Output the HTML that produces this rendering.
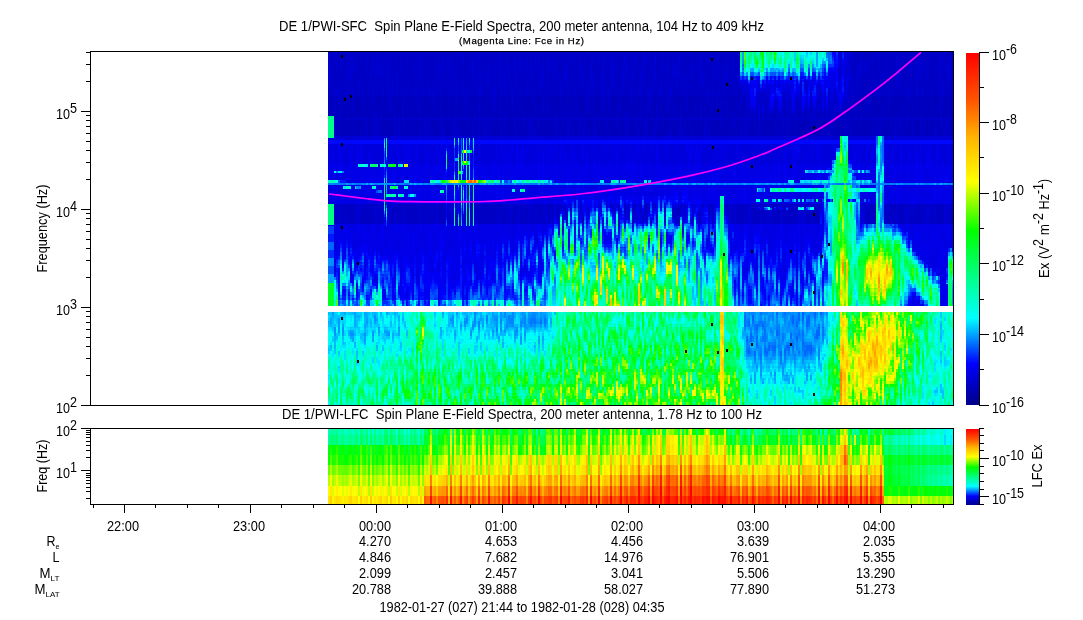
<!DOCTYPE html>
<html lang="en"><head><meta charset="utf-8"><title>DE 1/PWI Spin Plane E-Field Spectra</title>
<style>html,body{margin:0;padding:0;background:#fff}svg{display:block}text{font-family:"Liberation Sans", Arial, sans-serif;fill:#000}</style>
</head><body>
<svg width="1083" height="620" viewBox="0 0 1083 620">
<rect width="1083" height="620" fill="#fff"/>
<defs><linearGradient id="cb" x1="0" y1="0" x2="0" y2="1"><stop offset="0.0000" stop-color="#ff0000"/><stop offset="0.1333" stop-color="#ff5400"/><stop offset="0.2471" stop-color="#ffb900"/><stop offset="0.3647" stop-color="#ffff00"/><stop offset="0.5059" stop-color="#00ff00"/><stop offset="0.7529" stop-color="#00ffff"/><stop offset="0.8824" stop-color="#0000ff"/><stop offset="1.0000" stop-color="#000089"/></linearGradient></defs>
<defs>
<filter id="fm" filterUnits="userSpaceOnUse" x="328" y="52" width="625" height="254" color-interpolation-filters="sRGB">
<feTurbulence type="fractalNoise" baseFrequency="0.45 0.035" numOctaves="2" seed="11" stitchTiles="noStitch"/>
<feColorMatrix type="matrix" values="2.8 0 0 0 -0.9 2.8 0 0 0 -0.9 2.8 0 0 0 -0.9 0 0 0 0 1" result="n0"/>
<feComponentTransfer result="n0"><feFuncR type="gamma" exponent="1.8"/><feFuncG type="gamma" exponent="1.8"/><feFuncB type="gamma" exponent="1.8"/></feComponentTransfer>
<feFlood x="328" y="53" width="1" height="1" flood-color="#000"/>
<feOffset dx="0" dy="0" x="328" y="52" width="2" height="3"/>
<feTile result="grid"/>
<feComposite in="n0" in2="grid" operator="in"/>
<feMorphology operator="dilate" radius="0 1" result="m"/>
<feOffset in="m" dx="1" dy="0" result="m2"/>
<feMerge result="n"><feMergeNode in="m2"/><feMergeNode in="m"/></feMerge>
<feColorMatrix in="SourceGraphic" type="matrix" values="1 0 0 0 0 1 0 0 0 0 1 0 0 0 0 0 0 0 0 1" result="b"/>
<feColorMatrix in="SourceGraphic" type="matrix" values="0 1 0 0 0 0 1 0 0 0 0 1 0 0 0 0 0 0 0 1" result="a"/>
<feComposite in="a" in2="n" operator="arithmetic" k1="1" k2="-0.5" k3="0" k4="0.5" result="t1"/>
<feComposite in="b" in2="t1" operator="arithmetic" k1="0" k2="1" k3="1" k4="-0.5"/>
<feComponentTransfer><feFuncR type="table" tableValues="0 0 0 0 0 0 0 0 0 0 0 0 0 0 0 0 0 0 0 0 0 0 0 0 0 0 0 0 0 0 0 0 0 0 0 0 0 0 0 0 0 0 0 0.0833 0.167 0.25 0.333 0.417 0.5 0.583 0.667 0.75 0.833 0.917 1 1 1 1 1 1 1 1 1 1 1 1 1 1 1 1 1 1 1 1 1 1 1 1 1 1 1 1 1 1 1 1"/><feFuncG type="table" tableValues="0 0 0 0 0 0 0 0 0 0 0 0.0909 0.182 0.273 0.364 0.455 0.545 0.636 0.727 0.818 0.909 1 1 1 1 1 1 1 1 1 1 1 1 1 1 1 1 1 1 1 1 1 1 1 1 1 1 1 1 1 1 1 1 1 1 0.973 0.945 0.918 0.89 0.863 0.835 0.808 0.78 0.753 0.725 0.685 0.644 0.603 0.562 0.521 0.48 0.439 0.398 0.357 0.32 0.291 0.262 0.233 0.203 0.174 0.145 0.116 0.0872 0.0581 0.0291 0"/><feFuncB type="table" tableValues="0.537 0.584 0.63 0.676 0.722 0.769 0.815 0.861 0.907 0.954 1 1 1 1 1 1 1 1 1 1 1 1 0.952 0.905 0.857 0.81 0.762 0.714 0.667 0.619 0.571 0.524 0.476 0.429 0.381 0.333 0.286 0.238 0.19 0.143 0.0952 0.0476 0 0 0 0 0 0 0 0 0 0 0 0 0 0 0 0 0 0 0 0 0 0 0 0 0 0 0 0 0 0 0 0 0 0 0 0 0 0 0 0 0 0 0 0"/></feComponentTransfer>
</filter>
<filter id="fb" filterUnits="userSpaceOnUse" x="328" y="312" width="625" height="93" color-interpolation-filters="sRGB">
<feTurbulence type="fractalNoise" baseFrequency="0.45 0.07" numOctaves="2" seed="23" stitchTiles="noStitch"/>
<feColorMatrix type="matrix" values="2.6 0 0 0 -0.8 2.6 0 0 0 -0.8 2.6 0 0 0 -0.8 0 0 0 0 1" result="n0"/>
<feFlood x="328" y="313" width="1" height="1" flood-color="#000"/>
<feOffset dx="0" dy="0" x="328" y="312" width="2" height="3"/>
<feTile result="grid"/>
<feComposite in="n0" in2="grid" operator="in"/>
<feMorphology operator="dilate" radius="0 1" result="m"/>
<feOffset in="m" dx="1" dy="0" result="m2"/>
<feMerge result="n"><feMergeNode in="m2"/><feMergeNode in="m"/></feMerge>
<feColorMatrix in="SourceGraphic" type="matrix" values="1 0 0 0 0 1 0 0 0 0 1 0 0 0 0 0 0 0 0 1" result="b"/>
<feColorMatrix in="SourceGraphic" type="matrix" values="0 1 0 0 0 0 1 0 0 0 0 1 0 0 0 0 0 0 0 1" result="a"/>
<feComposite in="a" in2="n" operator="arithmetic" k1="1" k2="-0.5" k3="0" k4="0.5" result="t1"/>
<feComposite in="b" in2="t1" operator="arithmetic" k1="0" k2="1" k3="1" k4="-0.5"/>
<feComponentTransfer><feFuncR type="table" tableValues="0 0 0 0 0 0 0 0 0 0 0 0 0 0 0 0 0 0 0 0 0 0 0 0 0 0 0 0 0 0 0 0 0 0 0 0 0 0 0 0 0 0 0 0.0833 0.167 0.25 0.333 0.417 0.5 0.583 0.667 0.75 0.833 0.917 1 1 1 1 1 1 1 1 1 1 1 1 1 1 1 1 1 1 1 1 1 1 1 1 1 1 1 1 1 1 1 1"/><feFuncG type="table" tableValues="0 0 0 0 0 0 0 0 0 0 0 0.0909 0.182 0.273 0.364 0.455 0.545 0.636 0.727 0.818 0.909 1 1 1 1 1 1 1 1 1 1 1 1 1 1 1 1 1 1 1 1 1 1 1 1 1 1 1 1 1 1 1 1 1 1 0.973 0.945 0.918 0.89 0.863 0.835 0.808 0.78 0.753 0.725 0.685 0.644 0.603 0.562 0.521 0.48 0.439 0.398 0.357 0.32 0.291 0.262 0.233 0.203 0.174 0.145 0.116 0.0872 0.0581 0.0291 0"/><feFuncB type="table" tableValues="0.537 0.584 0.63 0.676 0.722 0.769 0.815 0.861 0.907 0.954 1 1 1 1 1 1 1 1 1 1 1 1 0.952 0.905 0.857 0.81 0.762 0.714 0.667 0.619 0.571 0.524 0.476 0.429 0.381 0.333 0.286 0.238 0.19 0.143 0.0952 0.0476 0 0 0 0 0 0 0 0 0 0 0 0 0 0 0 0 0 0 0 0 0 0 0 0 0 0 0 0 0 0 0 0 0 0 0 0 0 0 0 0 0 0 0 0"/></feComponentTransfer>
</filter>
<filter id="fl" filterUnits="userSpaceOnUse" x="328" y="429" width="625" height="75" color-interpolation-filters="sRGB">
<feTurbulence type="fractalNoise" baseFrequency="0.40 0.004" numOctaves="1" seed="5" stitchTiles="noStitch"/>
<feColorMatrix type="matrix" values="2.8 0 0 0 -0.9 2.8 0 0 0 -0.9 2.8 0 0 0 -0.9 0 0 0 0 1" result="n0"/>
<feFlood x="328" y="430" width="1" height="1" flood-color="#000"/>
<feOffset dx="0" dy="0" x="328" y="429" width="2" height="3"/>
<feTile result="grid"/>
<feComposite in="n0" in2="grid" operator="in"/>
<feMorphology operator="dilate" radius="0 1" result="m"/>
<feOffset in="m" dx="1" dy="0" result="m2"/>
<feMerge result="n"><feMergeNode in="m2"/><feMergeNode in="m"/></feMerge>
<feColorMatrix in="SourceGraphic" type="matrix" values="1 0 0 0 0 1 0 0 0 0 1 0 0 0 0 0 0 0 0 1" result="b"/>
<feColorMatrix in="SourceGraphic" type="matrix" values="0 1 0 0 0 0 1 0 0 0 0 1 0 0 0 0 0 0 0 1" result="a"/>
<feComposite in="a" in2="n" operator="arithmetic" k1="1" k2="-0.5" k3="0" k4="0.5" result="t1"/>
<feComposite in="b" in2="t1" operator="arithmetic" k1="0" k2="1" k3="1" k4="-0.5"/>
<feComponentTransfer><feFuncR type="table" tableValues="0 0 0 0 0 0 0 0 0 0 0 0 0 0 0 0 0 0 0 0 0 0 0 0 0 0 0 0 0 0 0 0 0 0 0 0 0 0 0 0 0 0 0 0.0833 0.167 0.25 0.333 0.417 0.5 0.583 0.667 0.75 0.833 0.917 1 1 1 1 1 1 1 1 1 1 1 1 1 1 1 1 1 1 1 1 1 1 1 1 1 1 1 1 1 1 1 1"/><feFuncG type="table" tableValues="0 0 0 0 0 0 0 0 0 0 0 0.0909 0.182 0.273 0.364 0.455 0.545 0.636 0.727 0.818 0.909 1 1 1 1 1 1 1 1 1 1 1 1 1 1 1 1 1 1 1 1 1 1 1 1 1 1 1 1 1 1 1 1 1 1 0.973 0.945 0.918 0.89 0.863 0.835 0.808 0.78 0.753 0.725 0.685 0.644 0.603 0.562 0.521 0.48 0.439 0.398 0.357 0.32 0.291 0.262 0.233 0.203 0.174 0.145 0.116 0.0872 0.0581 0.0291 0"/><feFuncB type="table" tableValues="0.537 0.584 0.63 0.676 0.722 0.769 0.815 0.861 0.907 0.954 1 1 1 1 1 1 1 1 1 1 1 1 0.952 0.905 0.857 0.81 0.762 0.714 0.667 0.619 0.571 0.524 0.476 0.429 0.381 0.333 0.286 0.238 0.19 0.143 0.0952 0.0476 0 0 0 0 0 0 0 0 0 0 0 0 0 0 0 0 0 0 0 0 0 0 0 0 0 0 0 0 0 0 0 0 0 0 0 0 0 0 0 0 0 0 0 0"/></feComponentTransfer>
</filter>
</defs>
<g filter="url(#fm)">
<rect x="328" y="52" width="625" height="254" fill="#100800"/>
<path fill="#0e0400" d="M328 96h412v4h-412zM852 96h101v4h-101zM328 100h412v4h-412zM852 100h101v4h-101zM328 104h416v4h-416zM852 104h101v4h-101zM328 108h416v4h-416zM848 108h105v4h-105zM328 112h416v4h-416zM848 112h105v4h-105zM328 116h416v4h-416zM844 116h109v4h-109zM328 120h625v4h-625zM328 124h625v4h-625zM328 128h625v4h-625zM328 132h625v4h-625z"/>
<path fill="#100400" d="M328 52h412v4h-412zM852 52h101v4h-101zM328 56h412v4h-412zM852 56h101v4h-101zM328 60h412v4h-412zM852 60h101v4h-101zM328 64h412v4h-412zM852 64h101v4h-101zM328 68h412v4h-412zM852 68h101v4h-101zM328 72h412v4h-412zM852 72h101v4h-101zM328 76h412v4h-412zM852 76h101v4h-101zM328 80h412v4h-412zM852 80h101v4h-101zM328 84h412v4h-412zM852 84h101v4h-101zM328 88h412v4h-412zM852 88h101v4h-101zM328 92h412v4h-412zM852 92h101v4h-101zM740 96h4v4h-4zM740 100h4v4h-4zM848 104h4v4h-4zM744 116h4v4h-4zM328 204h224v4h-224zM724 204h96v4h-96zM864 204h12v4h-12zM884 204h69v4h-69zM328 208h224v4h-224zM728 208h92v4h-92zM864 208h12v4h-12zM884 208h69v4h-69zM328 212h220v4h-220zM728 212h92v4h-92zM864 212h12v4h-12zM884 212h69v4h-69zM328 216h216v4h-216zM728 216h92v4h-92zM864 216h12v4h-12zM884 216h69v4h-69zM328 220h216v4h-216zM732 220h88v4h-88zM864 220h12v4h-12zM884 220h69v4h-69z"/>
<path fill="#100800" d="M848 96h4v4h-4zM848 100h4v4h-4zM744 108h4v4h-4zM844 108h4v4h-4zM744 112h104v4h-104zM748 116h96v4h-96z"/>
<path fill="#120400" d="M712 204h4v4h-4zM724 208h4v4h-4zM544 216h4v4h-4zM728 220h4v4h-4z"/>
<path fill="#120800" d="M848 80h4v4h-4zM740 84h4v4h-4zM848 84h4v4h-4zM740 88h4v4h-4zM848 88h4v4h-4zM740 92h4v4h-4zM848 92h4v4h-4zM744 100h4v4h-4zM844 100h4v4h-4zM744 104h4v4h-4zM844 104h4v4h-4zM748 108h96v4h-96zM552 204h4v4h-4zM708 204h4v4h-4zM712 208h4v4h-4zM548 212h4v4h-4zM544 220h4v4h-4z"/>
<path fill="#140400" d="M328 136h512v4h-512zM848 136h28v4h-28zM884 136h69v4h-69z"/>
<path fill="#140800" d="M848 52h4v4h-4zM848 56h4v4h-4zM848 60h4v4h-4zM848 64h4v4h-4zM848 68h4v4h-4zM848 72h4v4h-4zM848 76h4v4h-4zM844 96h4v4h-4zM724 212h4v4h-4z"/>
<path fill="#140c00" d="M744 96h4v4h-4zM748 100h96v4h-96zM748 104h96v4h-96zM704 204h4v4h-4zM552 208h4v4h-4zM708 208h4v4h-4zM712 212h4v4h-4zM548 216h4v4h-4z"/>
<path fill="#160400" d="M328 144h512v4h-512zM848 144h28v4h-28zM884 144h69v4h-69zM328 148h508v4h-508zM848 148h28v4h-28zM884 148h69v4h-69zM328 152h508v4h-508zM848 152h28v4h-28zM884 152h69v4h-69zM328 156h508v4h-508zM848 156h28v4h-28zM884 156h69v4h-69zM328 160h504v4h-504zM852 160h24v4h-24zM884 160h69v4h-69z"/>
<path fill="#160800" d="M740 80h4v4h-4z"/>
<path fill="#160c00" d="M844 84h4v4h-4zM844 88h4v4h-4zM744 92h4v4h-4zM844 92h4v4h-4zM748 96h96v4h-96z"/>
<path fill="#161000" d="M556 204h4v4h-4zM700 204h4v4h-4zM704 208h4v4h-4zM552 212h4v4h-4zM708 212h4v4h-4zM712 216h4v4h-4zM548 220h4v4h-4z"/>
<path fill="#180400" d="M328 164h504v4h-504zM852 164h24v4h-24zM884 164h69v4h-69zM328 168h500v4h-500zM852 168h24v4h-24zM884 168h69v4h-69zM328 172h500v4h-500zM856 172h20v4h-20zM884 172h69v4h-69zM328 176h500v4h-500zM856 176h20v4h-20zM884 176h69v4h-69zM328 180h496v4h-496zM856 180h20v4h-20zM884 180h69v4h-69zM328 184h496v4h-496zM860 184h16v4h-16zM884 184h69v4h-69zM328 188h496v4h-496zM860 188h16v4h-16zM884 188h69v4h-69zM328 192h300v4h-300zM688 192h136v4h-136zM860 192h16v4h-16zM884 192h69v4h-69zM328 196h232v4h-232zM704 196h12v4h-12zM724 196h100v4h-100zM860 196h16v4h-16zM884 196h69v4h-69zM328 200h228v4h-228zM708 200h8v4h-8zM724 200h100v4h-100zM860 200h16v4h-16zM884 200h69v4h-69zM328 224h216v4h-216zM732 224h92v4h-92zM900 224h53v4h-53zM328 228h212v4h-212zM736 228h84v4h-84zM904 228h49v4h-49zM328 232h188v4h-188zM748 232h68v4h-68zM908 232h45v4h-45zM328 236h172v4h-172zM764 236h44v4h-44zM908 236h45v4h-45zM348 240h144v4h-144zM784 240h20v4h-20zM912 240h41v4h-41zM368 244h100v4h-100zM912 244h41v4h-41zM388 248h60v4h-60zM916 248h32v4h-32zM952 248h1v4h-1zM400 252h16v4h-16zM916 252h32v4h-32zM920 256h28v4h-28zM924 260h24v4h-24zM928 264h20v4h-20zM936 268h8v4h-8zM936 272h8v4h-8zM940 276h4v4h-4zM940 280h4v4h-4zM940 284h8v4h-8zM940 288h8v4h-8zM940 292h8v4h-8zM912 296h4v4h-4zM940 296h8v4h-8zM912 300h8v4h-8zM940 300h8v4h-8zM912 304h12v2h-12zM940 304h8v2h-8z"/>
<path fill="#180800" d="M628 192h44v4h-44zM680 192h8v4h-8zM744 232h4v4h-4z"/>
<path fill="#180c00" d="M844 52h4v4h-4zM844 56h4v4h-4zM844 60h4v4h-4zM844 64h4v4h-4zM844 68h4v4h-4zM844 72h4v4h-4zM844 76h4v4h-4zM844 80h4v4h-4zM744 84h4v4h-4zM744 88h4v4h-4zM840 92h4v4h-4z"/>
<path fill="#181000" d="M748 92h92v4h-92z"/>
<path fill="#181400" d="M692 204h8v4h-8z"/>
<path fill="#1a0400" d="M364 244h4v4h-4zM468 244h4v4h-4zM384 248h4v4h-4zM448 248h4v4h-4zM396 252h4v4h-4zM416 252h8v4h-8z"/>
<path fill="#1a0800" d="M672 192h8v4h-8zM560 196h28v4h-28zM688 196h16v4h-16zM716 196h4v4h-4zM556 200h4v4h-4zM704 200h4v4h-4zM728 224h4v4h-4zM540 228h4v4h-4zM732 228h4v4h-4zM820 228h4v4h-4zM516 232h24v4h-24zM736 232h8v4h-8zM816 232h4v4h-4zM500 236h24v4h-24zM740 236h24v4h-24zM808 236h8v4h-8zM328 240h20v4h-20zM492 240h16v4h-16zM748 240h36v4h-36zM804 240h8v4h-8zM348 244h16v4h-16zM472 244h24v4h-24zM768 244h40v4h-40zM364 248h20v4h-20zM452 248h40v4h-40zM788 248h16v4h-16zM380 252h16v4h-16zM424 252h52v4h-52zM396 256h64v4h-64zM404 260h40v4h-40zM408 264h4v4h-4z"/>
<path fill="#1a0c00" d="M588 196h8v4h-8zM724 216h4v4h-4zM820 216h4v4h-4zM820 220h4v4h-4zM544 224h4v4h-4z"/>
<path fill="#1a1000" d="M840 52h4v4h-4zM840 56h4v4h-4zM840 60h4v4h-4zM840 64h4v4h-4zM836 68h8v4h-8zM836 72h8v4h-8zM836 76h8v4h-8zM836 80h8v4h-8zM748 84h96v4h-96zM748 88h96v4h-96zM820 204h4v4h-4zM860 204h4v4h-4zM820 208h4v4h-4zM860 208h4v4h-4zM820 212h4v4h-4z"/>
<path fill="#1a1400" d="M688 204h4v4h-4zM700 208h4v4h-4zM704 212h4v4h-4zM552 216h4v4h-4zM708 216h4v4h-4zM712 220h4v4h-4z"/>
<path fill="#1a1800" d="M560 204h20v4h-20zM684 204h4v4h-4zM556 208h4v4h-4z"/>
<path fill="#1c0800" d="M344 244h4v4h-4zM496 244h4v4h-4zM784 248h4v4h-4zM476 252h4v4h-4zM392 256h4v4h-4zM460 256h4v4h-4zM400 260h4v4h-4zM444 260h8v4h-8zM412 264h8v4h-8z"/>
<path fill="#1c0c00" d="M596 196h92v4h-92zM692 200h12v4h-12zM716 200h4v4h-4zM728 228h4v4h-4zM540 232h4v4h-4zM732 232h4v4h-4zM820 232h4v4h-4zM524 236h16v4h-16zM732 236h8v4h-8zM816 236h4v4h-4zM508 240h16v4h-16zM736 240h12v4h-12zM812 240h4v4h-4zM328 244h16v4h-16zM500 244h8v4h-8zM740 244h28v4h-28zM808 244h4v4h-4zM348 248h16v4h-16zM492 248h8v4h-8zM760 248h24v4h-24zM804 248h4v4h-4zM368 252h12v4h-12zM480 252h16v4h-16zM780 252h24v4h-24zM384 256h8v4h-8zM464 256h28v4h-28zM796 256h4v4h-4zM396 260h4v4h-4zM452 260h28v4h-28zM400 264h8v4h-8zM420 264h44v4h-44zM404 268h48v4h-48zM408 272h12v4h-12z"/>
<path fill="#1c1000" d="M836 52h4v4h-4zM836 56h4v4h-4zM836 60h4v4h-4zM836 64h4v4h-4zM740 76h4v4h-4zM744 80h4v4h-4zM824 80h12v4h-12zM860 212h4v4h-4zM860 216h4v4h-4zM860 220h4v4h-4zM544 228h4v4h-4z"/>
<path fill="#1c1800" d="M580 204h12v4h-12zM692 208h8v4h-8z"/>
<path fill="#1c1c00" d="M592 204h64v4h-64zM680 204h4v4h-4zM700 212h4v4h-4zM704 216h4v4h-4zM708 220h4v4h-4z"/>
<path fill="#1e0000" d="M328 140h512v4h-512zM848 140h28v4h-28zM884 140h69v4h-69z"/>
<path fill="#1e0c00" d="M508 244h4v4h-4zM756 248h4v4h-4zM364 252h4v4h-4zM776 252h4v4h-4zM380 256h4v4h-4zM792 256h4v4h-4zM392 260h4v4h-4zM480 260h4v4h-4zM464 264h8v4h-8zM452 268h8v4h-8zM420 272h28v4h-28zM408 276h4v4h-4z"/>
<path fill="#1e1000" d="M832 76h4v4h-4zM816 80h8v4h-8zM560 200h44v4h-44zM684 200h8v4h-8zM728 232h4v4h-4zM904 232h4v4h-4zM540 236h4v4h-4zM728 236h4v4h-4zM820 236h4v4h-4zM524 240h16v4h-16zM732 240h4v4h-4zM816 240h4v4h-4zM512 244h8v4h-8zM736 244h4v4h-4zM812 244h4v4h-4zM328 248h20v4h-20zM500 248h8v4h-8zM740 248h16v4h-16zM808 248h4v4h-4zM912 248h4v4h-4zM356 252h8v4h-8zM496 252h8v4h-8zM752 252h24v4h-24zM804 252h4v4h-4zM372 256h8v4h-8zM492 256h4v4h-4zM772 256h20v4h-20zM800 256h4v4h-4zM388 260h4v4h-4zM484 260h8v4h-8zM792 260h8v4h-8zM396 264h4v4h-4zM472 264h20v4h-20zM400 268h4v4h-4zM460 268h20v4h-20zM404 272h4v4h-4zM448 272h20v4h-20zM404 276h4v4h-4zM412 276h48v4h-48zM408 280h40v4h-40z"/>
<path fill="#1e1400" d="M776 80h40v4h-40zM604 200h8v4h-8z"/>
<path fill="#1e1c00" d="M656 204h24v4h-24zM688 208h4v4h-4zM552 220h4v4h-4z"/>
<path fill="#1e2000" d="M560 208h8v4h-8zM556 212h4v4h-4zM696 212h4v4h-4z"/>
<path fill="#201000" d="M828 168h4v4h-4zM824 180h4v4h-4zM716 204h4v4h-4zM724 220h4v4h-4zM896 224h4v4h-4zM900 228h4v4h-4zM908 240h4v4h-4zM520 244h4v4h-4zM508 248h4v4h-4zM352 252h4v4h-4zM748 252h4v4h-4zM368 256h4v4h-4zM496 256h4v4h-4zM768 256h4v4h-4zM384 260h4v4h-4zM492 260h4v4h-4zM784 260h8v4h-8zM800 260h4v4h-4zM392 264h4v4h-4zM396 268h4v4h-4zM480 268h8v4h-8zM400 272h4v4h-4zM468 272h12v4h-12zM460 276h12v4h-12zM448 280h16v4h-16zM408 284h52v4h-52zM408 288h52v4h-52zM416 292h36v4h-36zM424 296h24v4h-24zM908 304h4v2h-4z"/>
<path fill="#201400" d="M832 72h4v4h-4zM828 76h4v4h-4zM748 80h28v4h-28zM612 200h72v4h-72zM548 224h4v4h-4zM544 232h4v4h-4zM540 240h4v4h-4zM728 240h4v4h-4zM820 240h4v4h-4zM524 244h16v4h-16zM732 244h4v4h-4zM816 244h4v4h-4zM512 248h8v4h-8zM736 248h4v4h-4zM812 248h4v4h-4zM344 252h8v4h-8zM504 252h4v4h-4zM740 252h8v4h-8zM808 252h4v4h-4zM360 256h8v4h-8zM500 256h4v4h-4zM744 256h24v4h-24zM804 256h4v4h-4zM376 260h8v4h-8zM496 260h4v4h-4zM764 260h20v4h-20zM492 264h4v4h-4zM780 264h24v4h-24zM488 268h4v4h-4zM480 272h12v4h-12zM400 276h4v4h-4zM472 276h12v4h-12zM404 280h4v4h-4zM464 280h12v4h-12zM404 284h4v4h-4zM460 284h4v4h-4zM408 292h8v4h-8z"/>
<path fill="#202000" d="M568 208h12v4h-12zM684 208h4v4h-4zM692 212h4v4h-4zM700 216h4v4h-4zM704 220h4v4h-4z"/>
<path fill="#202400" d="M580 208h12v4h-12zM688 212h4v4h-4z"/>
<path fill="#221000" d="M924 264h4v4h-4zM452 292h8v4h-8zM912 292h4v4h-4zM416 296h8v4h-8zM448 296h12v4h-12z"/>
<path fill="#221400" d="M832 68h4v4h-4zM824 76h4v4h-4zM836 148h4v4h-4zM340 252h4v4h-4zM508 252h4v4h-4zM736 252h4v4h-4zM740 256h4v4h-4zM372 260h4v4h-4zM756 260h8v4h-8zM804 260h4v4h-4zM388 264h4v4h-4zM776 264h4v4h-4zM492 268h4v4h-4zM792 268h8v4h-8zM396 272h4v4h-4zM484 276h8v4h-8zM476 280h16v4h-16zM464 284h28v4h-28zM404 288h4v4h-4zM460 288h24v4h-24zM460 292h16v4h-16zM408 296h8v4h-8zM460 296h12v4h-12z"/>
<path fill="#221800" d="M712 224h4v4h-4zM544 236h4v4h-4zM540 244h4v4h-4zM728 244h4v4h-4zM820 244h4v4h-4zM520 248h20v4h-20zM732 248h4v4h-4zM816 248h4v4h-4zM328 252h12v4h-12zM512 252h4v4h-4zM812 252h4v4h-4zM352 256h8v4h-8zM504 256h4v4h-4zM736 256h4v4h-4zM808 256h4v4h-4zM364 260h8v4h-8zM500 260h4v4h-4zM740 260h16v4h-16zM380 264h8v4h-8zM496 264h4v4h-4zM752 264h24v4h-24zM392 268h4v4h-4zM772 268h20v4h-20zM800 268h4v4h-4zM492 272h4v4h-4zM792 272h8v4h-8zM400 280h4v4h-4zM404 292h4v4h-4z"/>
<path fill="#222400" d="M592 208h24v4h-24zM680 208h4v4h-4z"/>
<path fill="#222800" d="M616 208h64v4h-64zM556 216h4v4h-4zM692 216h8v4h-8zM700 220h4v4h-4z"/>
<path fill="#241000" d="M860 224h4v4h-4zM904 236h4v4h-4zM908 244h4v4h-4zM908 300h4v4h-4z"/>
<path fill="#241400" d="M852 172h4v4h-4zM856 184h4v4h-4zM484 288h8v4h-8zM476 292h16v4h-16zM472 296h20v4h-20z"/>
<path fill="#241800" d="M832 64h4v4h-4zM828 72h4v4h-4zM812 76h12v4h-12zM516 252h4v4h-4zM348 256h4v4h-4zM508 256h4v4h-4zM376 264h4v4h-4zM740 264h12v4h-12zM804 264h4v4h-4zM496 268h4v4h-4zM760 268h12v4h-12zM780 272h12v4h-12zM800 272h4v4h-4zM396 276h4v4h-4zM492 276h4v4h-4zM796 276h4v4h-4zM492 280h4v4h-4zM400 284h4v4h-4zM404 296h4v4h-4z"/>
<path fill="#241c00" d="M548 228h4v4h-4zM544 240h4v4h-4zM540 248h4v4h-4zM728 248h4v4h-4zM520 252h20v4h-20zM732 252h4v4h-4zM816 252h4v4h-4zM328 256h20v4h-20zM512 256h4v4h-4zM812 256h4v4h-4zM356 260h8v4h-8zM504 260h4v4h-4zM736 260h4v4h-4zM808 260h4v4h-4zM372 264h4v4h-4zM500 264h4v4h-4zM384 268h8v4h-8zM744 268h16v4h-16zM804 268h4v4h-4zM392 272h4v4h-4zM496 272h4v4h-4zM764 272h16v4h-16zM780 276h16v4h-16z"/>
<path fill="#242800" d="M560 212h8v4h-8zM684 212h4v4h-4z"/>
<path fill="#242c00" d="M568 212h12v4h-12zM688 216h4v4h-4z"/>
<path fill="#261000" d="M716 208h4v4h-4z"/>
<path fill="#261400" d="M848 160h4v4h-4zM824 184h4v4h-4zM920 260h4v4h-4zM936 280h4v4h-4zM916 296h4v4h-4z"/>
<path fill="#261800" d="M832 52h4v4h-4zM832 56h4v4h-4zM832 60h4v4h-4zM788 76h24v4h-24zM492 284h4v4h-4zM492 288h4v4h-4zM492 292h4v4h-4z"/>
<path fill="#261c00" d="M820 248h4v4h-4zM732 256h4v4h-4zM508 260h4v4h-4zM368 264h4v4h-4zM736 264h4v4h-4zM500 268h4v4h-4zM736 268h8v4h-8zM740 272h24v4h-24zM496 276h4v4h-4zM744 276h36v4h-36zM800 276h4v4h-4zM396 280h4v4h-4zM764 280h40v4h-40zM784 284h16v4h-16zM400 288h4v4h-4zM400 292h4v4h-4z"/>
<path fill="#262000" d="M708 224h4v4h-4zM712 228h4v4h-4zM548 232h4v4h-4zM544 244h4v4h-4zM540 252h4v4h-4zM728 252h4v4h-4zM516 256h24v4h-24zM348 260h8v4h-8zM512 260h4v4h-4zM732 260h4v4h-4zM812 260h4v4h-4zM364 264h4v4h-4zM504 264h8v4h-8zM808 264h4v4h-4zM376 268h8v4h-8zM388 272h4v4h-4zM804 272h4v4h-4zM392 276h4v4h-4z"/>
<path fill="#262c00" d="M580 212h8v4h-8zM696 220h4v4h-4z"/>
<path fill="#263000" d="M588 212h8v4h-8zM680 212h4v4h-4zM692 220h4v4h-4z"/>
<path fill="#281000" d="M724 224h4v4h-4z"/>
<path fill="#281400" d="M740 72h4v4h-4zM856 188h4v4h-4zM892 224h4v4h-4zM896 228h4v4h-4zM900 232h4v4h-4zM908 296h4v4h-4z"/>
<path fill="#281800" d="M824 72h4v4h-4zM744 76h4v4h-4zM780 76h8v4h-8zM492 296h4v4h-4z"/>
<path fill="#281c00" d="M740 276h4v4h-4zM496 280h4v4h-4zM740 280h24v4h-24zM496 284h4v4h-4zM740 284h44v4h-44zM496 288h4v4h-4zM756 288h44v4h-44zM776 292h24v4h-24zM796 296h4v4h-4z"/>
<path fill="#282000" d="M816 256h4v4h-4zM360 264h4v4h-4zM732 264h4v4h-4zM372 268h4v4h-4zM504 268h4v4h-4zM808 268h4v4h-4zM384 272h4v4h-4zM500 272h4v4h-4zM736 272h4v4h-4zM500 276h4v4h-4zM736 276h4v4h-4zM804 276h4v4h-4zM396 284h4v4h-4zM800 284h4v4h-4zM800 288h4v4h-4zM400 296h4v4h-4z"/>
<path fill="#282400" d="M552 224h4v4h-4zM708 228h4v4h-4zM712 232h4v4h-4zM544 248h4v4h-4zM820 252h4v4h-4zM540 256h4v4h-4zM328 260h20v4h-20zM516 260h20v4h-20zM356 264h4v4h-4zM512 264h4v4h-4zM812 264h4v4h-4zM368 268h4v4h-4zM508 268h4v4h-4zM380 272h4v4h-4zM392 280h4v4h-4zM396 288h4v4h-4z"/>
<path fill="#283000" d="M596 212h72v4h-72zM556 220h4v4h-4z"/>
<path fill="#283400" d="M668 212h12v4h-12zM560 216h8v4h-8zM684 216h4v4h-4zM688 220h4v4h-4z"/>
<path fill="#2a1400" d="M864 224h4v4h-4zM904 240h4v4h-4zM916 256h4v4h-4zM920 300h4v4h-4z"/>
<path fill="#2a1800" d="M832 160h4v4h-4zM828 172h4v4h-4zM824 188h4v4h-4z"/>
<path fill="#2a1c00" d="M828 68h4v4h-4zM748 76h32v4h-32zM740 288h16v4h-16zM496 292h4v4h-4zM740 292h36v4h-36zM496 296h4v4h-4zM756 296h40v4h-40zM776 300h24v4h-24zM792 304h8v2h-8z"/>
<path fill="#2a2000" d="M500 280h4v4h-4zM736 280h4v4h-4zM500 284h4v4h-4zM736 284h4v4h-4zM800 292h4v4h-4zM800 296h4v4h-4z"/>
<path fill="#2a2400" d="M536 260h4v4h-4zM816 260h4v4h-4zM352 264h4v4h-4zM364 268h4v4h-4zM732 268h4v4h-4zM376 272h4v4h-4zM504 272h8v4h-8zM732 272h4v4h-4zM808 272h4v4h-4zM388 276h4v4h-4zM504 276h4v4h-4zM808 276h4v4h-4zM804 280h4v4h-4zM804 284h4v4h-4zM396 292h4v4h-4z"/>
<path fill="#2a2800" d="M704 224h4v4h-4zM548 236h4v4h-4zM712 236h4v4h-4zM820 256h4v4h-4zM540 260h4v4h-4zM348 264h4v4h-4zM516 264h16v4h-16zM360 268h4v4h-4zM512 268h4v4h-4zM812 268h4v4h-4zM372 272h4v4h-4zM384 276h4v4h-4zM392 284h4v4h-4z"/>
<path fill="#2a3400" d="M568 216h8v4h-8z"/>
<path fill="#2a3800" d="M576 216h8v4h-8z"/>
<path fill="#2c1400" d="M716 212h4v4h-4z"/>
<path fill="#2c1800" d="M856 192h4v4h-4zM824 228h4v4h-4zM860 228h4v4h-4zM824 232h4v4h-4zM824 236h4v4h-4zM824 240h4v4h-4zM904 304h4v2h-4z"/>
<path fill="#2c1c00" d="M740 296h16v4h-16zM740 300h36v4h-36zM752 304h40v2h-40z"/>
<path fill="#2c2000" d="M500 288h4v4h-4zM736 288h4v4h-4zM500 292h4v4h-4zM736 292h4v4h-4zM800 300h4v4h-4zM800 304h4v2h-4z"/>
<path fill="#2c2400" d="M728 256h4v4h-4zM732 276h4v4h-4zM504 280h4v4h-4zM732 280h4v4h-4zM504 284h4v4h-4zM804 288h4v4h-4zM804 292h4v4h-4z"/>
<path fill="#2c2800" d="M544 252h4v4h-4zM328 264h20v4h-20zM532 264h12v4h-12zM816 264h4v4h-4zM356 268h4v4h-4zM516 268h4v4h-4zM368 272h4v4h-4zM512 272h4v4h-4zM812 272h4v4h-4zM380 276h4v4h-4zM508 276h4v4h-4zM808 280h4v4h-4zM396 296h4v4h-4z"/>
<path fill="#2c2c00" d="M552 228h4v4h-4zM704 228h4v4h-4zM708 232h4v4h-4zM548 240h4v4h-4zM820 260h4v4h-4zM352 268h4v4h-4zM520 268h8v4h-8zM364 272h4v4h-4zM376 276h4v4h-4zM388 280h4v4h-4z"/>
<path fill="#2c3800" d="M584 216h4v4h-4zM680 216h4v4h-4z"/>
<path fill="#2c3c00" d="M588 216h8v4h-8zM684 220h4v4h-4z"/>
<path fill="#2e1400" d="M724 228h4v4h-4z"/>
<path fill="#2e1800" d="M852 176h4v4h-4zM824 192h4v4h-4zM824 196h4v4h-4zM856 196h4v4h-4zM824 200h4v4h-4zM856 200h4v4h-4zM824 204h4v4h-4zM856 204h4v4h-4zM824 208h4v4h-4zM856 208h4v4h-4zM824 212h4v4h-4zM824 216h4v4h-4zM824 220h4v4h-4zM824 224h4v4h-4zM888 224h4v4h-4zM912 252h4v4h-4zM928 272h4v4h-4zM908 292h4v4h-4z"/>
<path fill="#2e1c00" d="M828 64h4v4h-4zM816 72h8v4h-8zM740 304h12v2h-12z"/>
<path fill="#2e2000" d="M812 72h4v4h-4zM500 296h4v4h-4zM736 296h4v4h-4zM736 300h4v4h-4z"/>
<path fill="#2e2400" d="M732 284h4v4h-4zM504 288h4v4h-4zM804 296h4v4h-4zM804 300h4v4h-4z"/>
<path fill="#2e2800" d="M508 280h4v4h-4zM508 284h4v4h-4zM808 284h4v4h-4zM808 288h4v4h-4z"/>
<path fill="#2e2c00" d="M700 224h4v4h-4zM712 240h4v4h-4zM544 256h4v4h-4zM528 268h16v4h-16zM816 268h4v4h-4zM360 272h4v4h-4zM516 272h16v4h-16zM372 276h4v4h-4zM512 276h4v4h-4zM812 276h4v4h-4zM384 280h4v4h-4zM392 288h4v4h-4z"/>
<path fill="#2e3000" d="M708 236h4v4h-4zM820 264h4v4h-4zM328 268h24v4h-24zM356 272h4v4h-4zM368 276h4v4h-4zM380 280h4v4h-4zM388 284h4v4h-4z"/>
<path fill="#2e3c00" d="M596 216h84v4h-84zM560 220h8v4h-8z"/>
<path fill="#2e4000" d="M568 220h4v4h-4z"/>
<path fill="#301400" d="M716 216h4v4h-4z"/>
<path fill="#301800" d="M856 212h4v4h-4zM856 216h4v4h-4zM856 220h4v4h-4zM856 224h4v4h-4zM868 224h4v4h-4zM856 228h4v4h-4zM892 228h4v4h-4zM856 232h4v4h-4zM900 236h4v4h-4z"/>
<path fill="#301c00" d="M824 244h4v4h-4z"/>
<path fill="#302000" d="M824 68h4v4h-4zM796 72h16v4h-16zM736 304h4v2h-4z"/>
<path fill="#302400" d="M732 288h4v4h-4zM504 292h4v4h-4zM732 292h4v4h-4zM504 296h4v4h-4zM804 304h4v2h-4z"/>
<path fill="#302800" d="M508 288h4v4h-4zM808 292h4v4h-4z"/>
<path fill="#302c00" d="M532 272h12v4h-12zM816 272h4v4h-4zM516 276h4v4h-4zM524 276h16v4h-16zM512 280h4v4h-4zM812 280h4v4h-4zM512 284h4v4h-4zM812 284h4v4h-4zM392 292h4v4h-4zM392 296h4v4h-4z"/>
<path fill="#303000" d="M704 232h4v4h-4zM712 244h4v4h-4zM544 260h4v4h-4zM364 276h4v4h-4zM520 276h4v4h-4zM376 280h4v4h-4zM384 284h4v4h-4z"/>
<path fill="#303400" d="M692 224h8v4h-8zM700 228h4v4h-4zM552 232h4v4h-4zM548 244h4v4h-4zM944 268h4v4h-4zM348 272h8v4h-8zM944 272h4v4h-4zM360 276h4v4h-4zM944 276h4v4h-4zM372 280h4v4h-4zM944 280h4v4h-4zM380 284h4v4h-4z"/>
<path fill="#304000" d="M572 220h8v4h-8z"/>
<path fill="#304400" d="M580 220h4v4h-4z"/>
<path fill="#321800" d="M884 224h4v4h-4zM896 232h4v4h-4zM908 248h4v4h-4zM924 268h4v4h-4zM908 288h8v4h-8zM904 300h4v4h-4zM924 304h4v2h-4z"/>
<path fill="#321c00" d="M740 68h4v4h-4zM848 164h4v4h-4z"/>
<path fill="#322000" d="M828 52h4v4h-4zM828 56h4v4h-4zM828 60h4v4h-4zM788 72h8v4h-8z"/>
<path fill="#322400" d="M824 248h4v4h-4zM728 260h4v4h-4z"/>
<path fill="#322800" d="M508 292h4v4h-4zM508 296h4v4h-4zM808 296h4v4h-4zM808 300h4v4h-4z"/>
<path fill="#322c00" d="M540 276h4v4h-4zM516 280h4v4h-4zM524 280h20v4h-20zM516 284h4v4h-4zM512 288h4v4h-4zM812 288h4v4h-4z"/>
<path fill="#323000" d="M544 264h4v4h-4zM544 268h4v4h-4zM820 268h4v4h-4zM820 272h4v4h-4zM816 276h4v4h-4zM520 280h4v4h-4zM816 280h4v4h-4z"/>
<path fill="#323400" d="M704 236h4v4h-4zM708 240h4v4h-4zM712 248h4v4h-4zM928 268h8v4h-8zM328 272h12v4h-12zM356 276h4v4h-4zM936 276h4v4h-4zM368 280h4v4h-4zM376 284h4v4h-4zM384 288h8v4h-8z"/>
<path fill="#323800" d="M556 224h4v4h-4zM696 228h4v4h-4zM548 248h4v4h-4zM340 272h8v4h-8zM364 280h4v4h-4z"/>
<path fill="#324400" d="M584 220h8v4h-8zM680 220h4v4h-4z"/>
<path fill="#324800" d="M592 220h8v4h-8z"/>
<path fill="#341800" d="M716 220h4v4h-4zM872 224h4v4h-4z"/>
<path fill="#341c00" d="M828 176h4v4h-4zM864 228h4v4h-4z"/>
<path fill="#342000" d="M784 72h4v4h-4z"/>
<path fill="#342400" d="M732 296h4v4h-4z"/>
<path fill="#342800" d="M824 252h4v4h-4zM808 304h4v2h-4z"/>
<path fill="#342c00" d="M524 284h20v4h-20zM516 288h4v4h-4zM524 288h16v4h-16zM512 292h4v4h-4zM812 292h4v4h-4zM512 296h4v4h-4zM812 296h4v4h-4z"/>
<path fill="#343000" d="M544 272h4v4h-4zM520 284h4v4h-4zM816 284h4v4h-4zM520 288h4v4h-4z"/>
<path fill="#343400" d="M708 244h4v4h-4zM712 252h4v4h-4zM820 276h4v4h-4zM380 288h4v4h-4zM388 292h4v4h-4z"/>
<path fill="#343800" d="M700 232h4v4h-4zM704 240h4v4h-4zM328 276h8v4h-8zM352 276h4v4h-4zM360 280h4v4h-4zM368 284h8v4h-8zM376 288h4v4h-4zM384 292h4v4h-4z"/>
<path fill="#343c00" d="M688 224h4v4h-4zM692 228h4v4h-4zM552 236h4v4h-4zM348 276h4v4h-4z"/>
<path fill="#344800" d="M600 220h80v4h-80z"/>
<path fill="#361800" d="M724 232h4v4h-4z"/>
<path fill="#361c00" d="M852 180h4v4h-4zM860 232h4v4h-4zM856 236h4v4h-4zM904 244h4v4h-4zM920 264h4v4h-4zM908 284h4v4h-4zM936 284h4v4h-4zM916 292h4v4h-4z"/>
<path fill="#362400" d="M744 72h4v4h-4zM780 72h4v4h-4z"/>
<path fill="#362c00" d="M824 256h4v4h-4zM540 288h4v4h-4zM516 292h4v4h-4zM524 292h16v4h-16zM812 300h4v4h-4z"/>
<path fill="#363000" d="M544 276h4v4h-4zM816 288h4v4h-4zM520 292h4v4h-4zM408 300h52v4h-52zM408 304h48v2h-48z"/>
<path fill="#363400" d="M952 252h1v4h-1zM712 256h4v4h-4zM820 280h4v4h-4zM388 296h4v4h-4z"/>
<path fill="#363800" d="M708 248h4v4h-4zM372 288h4v4h-4zM380 292h4v4h-4zM384 296h4v4h-4z"/>
<path fill="#363c00" d="M696 232h4v4h-4zM700 236h4v4h-4zM704 244h4v4h-4zM548 252h4v4h-4zM336 276h12v4h-12zM328 280h4v4h-4zM352 280h8v4h-8zM360 284h8v4h-8z"/>
<path fill="#381800" d="M716 224h4v4h-4z"/>
<path fill="#381c00" d="M888 228h4v4h-4zM900 240h4v4h-4zM904 296h4v4h-4z"/>
<path fill="#382400" d="M824 64h4v4h-4zM816 68h8v4h-8zM776 72h4v4h-4zM728 264h4v4h-4zM732 300h4v4h-4z"/>
<path fill="#382c00" d="M540 292h4v4h-4zM516 296h4v4h-4zM524 296h20v4h-20zM812 304h4v2h-4z"/>
<path fill="#383000" d="M824 260h4v4h-4zM544 280h4v4h-4zM544 284h4v4h-4zM816 292h4v4h-4zM520 296h4v4h-4zM816 296h4v4h-4zM460 300h16v4h-16zM456 304h20v2h-20z"/>
<path fill="#383400" d="M712 260h4v4h-4zM712 264h4v4h-4zM932 272h4v4h-4zM820 284h4v4h-4zM404 300h4v4h-4zM476 300h4v4h-4zM404 304h4v2h-4z"/>
<path fill="#383800" d="M708 252h4v4h-4zM708 256h4v4h-4zM376 292h4v4h-4zM376 296h8v4h-8z"/>
<path fill="#383c00" d="M700 240h4v4h-4zM704 248h4v4h-4zM548 256h4v4h-4zM332 280h4v4h-4zM328 284h4v4h-4zM364 288h8v4h-8zM372 292h4v4h-4z"/>
<path fill="#384000" d="M688 228h4v4h-4zM692 232h4v4h-4zM696 236h4v4h-4zM552 240h4v4h-4zM336 280h16v4h-16zM356 284h4v4h-4z"/>
<path fill="#384400" d="M684 224h4v4h-4zM556 228h4v4h-4z"/>
<path fill="#3a1c00" d="M716 228h4v4h-4zM916 260h4v4h-4zM932 280h4v4h-4zM920 296h4v4h-4zM900 304h4v2h-4z"/>
<path fill="#3a2000" d="M836 152h4v4h-4zM832 164h4v4h-4zM828 180h4v4h-4z"/>
<path fill="#3a2400" d="M812 68h4v4h-4zM748 72h28v4h-28zM732 304h4v2h-4z"/>
<path fill="#3a2800" d="M808 68h4v4h-4z"/>
<path fill="#3a3000" d="M544 288h4v4h-4zM816 300h4v4h-4z"/>
<path fill="#3a3400" d="M948 248h4v4h-4zM824 264h4v4h-4zM712 268h4v4h-4zM824 268h4v4h-4zM824 272h4v4h-4zM824 276h4v4h-4zM824 280h4v4h-4zM820 288h4v4h-4zM480 300h12v4h-12zM476 304h16v2h-16z"/>
<path fill="#3a3800" d="M708 260h4v4h-4z"/>
<path fill="#3a3c00" d="M700 244h4v4h-4zM704 252h4v4h-4zM548 260h4v4h-4zM328 288h4v4h-4zM364 292h8v4h-8zM372 296h4v4h-4z"/>
<path fill="#3a4000" d="M692 236h4v4h-4zM696 240h4v4h-4zM332 284h8v4h-8zM348 284h8v4h-8zM356 288h8v4h-8z"/>
<path fill="#3a4400" d="M560 224h4v4h-4z"/>
<path fill="#3a4800" d="M564 224h8v4h-8z"/>
<path fill="#3c1c00" d="M868 228h4v4h-4zM892 232h4v4h-4zM724 236h4v4h-4zM896 236h4v4h-4z"/>
<path fill="#3c2000" d="M852 184h4v4h-4z"/>
<path fill="#3c2400" d="M740 64h4v4h-4z"/>
<path fill="#3c2800" d="M824 60h4v4h-4zM796 68h12v4h-12z"/>
<path fill="#3c3000" d="M544 292h4v4h-4zM816 304h4v2h-4z"/>
<path fill="#3c3400" d="M824 284h4v4h-4zM820 292h4v4h-4zM820 296h4v4h-4z"/>
<path fill="#3c3800" d="M708 264h4v4h-4zM492 300h4v4h-4z"/>
<path fill="#3c3c00" d="M700 248h4v4h-4zM704 256h4v4h-4zM548 264h4v4h-4zM328 292h4v4h-4zM364 296h8v4h-8zM400 300h4v4h-4z"/>
<path fill="#3c4000" d="M696 244h4v4h-4zM332 288h8v4h-8zM352 288h4v4h-4zM356 292h8v4h-8z"/>
<path fill="#3c4400" d="M692 240h4v4h-4zM552 244h4v4h-4zM340 284h8v4h-8z"/>
<path fill="#3c4800" d="M556 232h4v4h-4zM688 232h4v4h-4z"/>
<path fill="#3c4c00" d="M572 224h12v4h-12zM684 228h4v4h-4z"/>
<path fill="#3e1c00" d="M716 232h4v4h-4z"/>
<path fill="#3e2000" d="M848 168h4v4h-4zM884 228h4v4h-4zM904 292h4v4h-4z"/>
<path fill="#3e2400" d="M728 268h4v4h-4z"/>
<path fill="#3e2800" d="M824 52h4v4h-4zM824 56h4v4h-4zM788 68h8v4h-8z"/>
<path fill="#3e3000" d="M544 296h4v4h-4z"/>
<path fill="#3e3400" d="M952 256h1v4h-1zM712 272h4v4h-4zM824 288h4v4h-4zM820 300h4v4h-4z"/>
<path fill="#3e3800" d="M708 268h4v4h-4zM492 304h4v2h-4z"/>
<path fill="#3e3c00" d="M700 252h4v4h-4zM704 260h4v4h-4zM548 268h4v4h-4zM328 296h4v4h-4zM400 304h4v2h-4z"/>
<path fill="#3e4000" d="M696 248h4v4h-4zM332 292h8v4h-8zM356 296h8v4h-8z"/>
<path fill="#3e4400" d="M692 244h4v4h-4zM340 288h12v4h-12zM348 292h8v4h-8z"/>
<path fill="#3e4800" d="M688 236h4v4h-4zM552 248h4v4h-4z"/>
<path fill="#3e4c00" d="M680 224h4v4h-4z"/>
<path fill="#3e5000" d="M584 224h12v4h-12zM560 228h8v4h-8z"/>
<path fill="#402000" d="M872 228h4v4h-4zM864 232h4v4h-4zM856 240h4v4h-4zM912 256h4v4h-4zM928 276h4v4h-4zM908 280h4v4h-4zM924 300h4v4h-4z"/>
<path fill="#402400" d="M828 184h4v4h-4zM828 292h4v4h-4zM828 296h4v4h-4zM828 300h4v4h-4zM828 304h4v2h-4z"/>
<path fill="#402c00" d="M820 64h4v4h-4z"/>
<path fill="#403400" d="M712 276h4v4h-4zM932 276h4v4h-4zM824 292h4v4h-4zM820 304h4v2h-4z"/>
<path fill="#403800" d="M708 272h4v4h-4z"/>
<path fill="#403c00" d="M700 256h4v4h-4zM704 264h4v4h-4zM548 272h4v4h-4zM496 300h4v4h-4zM496 304h4v2h-4z"/>
<path fill="#404000" d="M696 252h4v4h-4zM332 296h8v4h-8z"/>
<path fill="#404400" d="M692 248h4v4h-4zM340 292h8v4h-8zM352 296h4v4h-4z"/>
<path fill="#404c00" d="M552 252h4v4h-4z"/>
<path fill="#405000" d="M568 228h4v4h-4zM556 236h4v4h-4z"/>
<path fill="#405400" d="M596 224h84v4h-84zM572 228h4v4h-4z"/>
<path fill="#421c00" d="M724 240h4v4h-4z"/>
<path fill="#422000" d="M860 236h4v4h-4zM900 300h4v4h-4zM856 304h4v2h-4z"/>
<path fill="#422400" d="M844 136h4v4h-4zM852 188h4v4h-4zM828 268h4v4h-4zM828 272h4v4h-4zM828 276h4v4h-4zM828 280h4v4h-4zM828 284h4v4h-4zM828 288h4v4h-4z"/>
<path fill="#422c00" d="M816 64h4v4h-4zM784 68h4v4h-4z"/>
<path fill="#423400" d="M824 296h4v4h-4z"/>
<path fill="#423800" d="M708 276h4v4h-4z"/>
<path fill="#423c00" d="M700 260h4v4h-4zM704 268h4v4h-4zM548 276h4v4h-4z"/>
<path fill="#424400" d="M692 252h4v4h-4zM340 296h12v4h-12zM396 300h4v4h-4zM396 304h4v2h-4z"/>
<path fill="#424c00" d="M688 240h4v4h-4zM552 256h4v4h-4z"/>
<path fill="#425000" d="M684 232h4v4h-4z"/>
<path fill="#425400" d="M576 228h4v4h-4zM560 232h4v4h-4z"/>
<path fill="#425800" d="M580 228h8v4h-8zM680 228h4v4h-4z"/>
<path fill="#442000" d="M908 252h4v4h-4zM924 272h4v4h-4zM912 284h4v4h-4zM904 288h4v4h-4z"/>
<path fill="#442400" d="M844 140h4v4h-4zM828 188h4v4h-4zM716 236h4v4h-4zM828 240h4v4h-4zM828 244h4v4h-4zM828 248h4v4h-4zM828 252h4v4h-4zM828 256h4v4h-4zM828 260h4v4h-4zM828 264h4v4h-4zM728 272h4v4h-4z"/>
<path fill="#442800" d="M740 60h4v4h-4z"/>
<path fill="#442c00" d="M808 64h8v4h-8zM780 68h4v4h-4z"/>
<path fill="#443400" d="M876 136h8v4h-8zM876 140h8v4h-8zM876 144h8v4h-8zM876 148h8v4h-8zM876 152h8v4h-8zM876 156h8v4h-8zM876 160h8v4h-8zM876 164h8v4h-8zM876 168h8v4h-8zM876 172h8v4h-8zM876 176h8v4h-8zM876 180h8v4h-8zM876 184h8v4h-8zM876 188h8v4h-8zM876 192h8v4h-8zM876 196h8v4h-8zM876 200h8v4h-8zM876 204h8v4h-8zM876 208h8v4h-8zM876 212h8v4h-8zM876 216h8v4h-8zM876 220h8v4h-8zM876 224h8v4h-8zM952 260h1v4h-1zM712 280h4v4h-4zM824 300h4v4h-4zM824 304h4v2h-4z"/>
<path fill="#443800" d="M708 280h4v4h-4zM540 300h4v4h-4zM540 304h4v2h-4z"/>
<path fill="#443c00" d="M700 264h4v4h-4zM704 272h4v4h-4zM548 280h4v4h-4z"/>
<path fill="#444000" d="M696 256h4v4h-4zM500 300h4v4h-4zM500 304h4v2h-4z"/>
<path fill="#444c00" d="M688 244h4v4h-4z"/>
<path fill="#445400" d="M556 240h4v4h-4z"/>
<path fill="#445800" d="M588 228h4v4h-4zM564 232h8v4h-8z"/>
<path fill="#445c00" d="M592 228h4v4h-4z"/>
<path fill="#462400" d="M832 168h4v4h-4zM852 192h4v4h-4zM852 196h4v4h-4zM828 216h4v4h-4zM828 220h4v4h-4zM828 224h4v4h-4zM828 228h4v4h-4zM828 232h4v4h-4zM888 232h4v4h-4zM828 236h4v4h-4z"/>
<path fill="#463000" d="M800 64h8v4h-8zM776 68h4v4h-4z"/>
<path fill="#463800" d="M708 284h4v4h-4zM544 300h4v4h-4zM544 304h4v2h-4z"/>
<path fill="#463c00" d="M700 268h4v4h-4zM704 276h4v4h-4zM548 284h4v4h-4zM536 300h4v4h-4zM536 304h4v2h-4z"/>
<path fill="#464000" d="M696 260h4v4h-4z"/>
<path fill="#464400" d="M692 256h4v4h-4zM504 300h4v4h-4z"/>
<path fill="#464c00" d="M688 248h4v4h-4zM552 260h4v4h-4zM392 300h4v4h-4z"/>
<path fill="#465400" d="M684 236h4v4h-4z"/>
<path fill="#465c00" d="M596 228h84v4h-84zM572 232h8v4h-8z"/>
<path fill="#482400" d="M848 172h4v4h-4zM828 192h4v4h-4zM852 200h4v4h-4zM828 212h4v4h-4zM892 236h4v4h-4zM904 248h4v4h-4zM920 268h4v4h-4zM728 276h4v4h-4zM916 288h4v4h-4zM936 288h4v4h-4zM928 304h4v2h-4z"/>
<path fill="#482800" d="M844 144h4v4h-4zM828 196h4v4h-4zM828 200h4v4h-4zM828 204h4v4h-4zM852 204h4v4h-4zM828 208h4v4h-4zM852 208h4v4h-4zM852 212h4v4h-4zM852 216h4v4h-4zM852 220h4v4h-4z"/>
<path fill="#482c00" d="M740 52h4v4h-4zM740 56h4v4h-4z"/>
<path fill="#483000" d="M820 60h4v4h-4zM796 64h4v4h-4zM744 68h4v4h-4z"/>
<path fill="#483400" d="M948 252h4v4h-4zM952 264h1v4h-1zM712 284h4v4h-4z"/>
<path fill="#483800" d="M708 288h4v4h-4z"/>
<path fill="#483c00" d="M704 280h4v4h-4zM548 288h4v4h-4z"/>
<path fill="#484000" d="M696 264h4v4h-4z"/>
<path fill="#484400" d="M692 260h4v4h-4zM508 300h4v4h-4zM532 300h4v4h-4zM504 304h4v2h-4z"/>
<path fill="#484c00" d="M688 252h4v4h-4zM552 264h4v4h-4zM392 304h4v2h-4z"/>
<path fill="#485800" d="M684 240h4v4h-4zM556 244h4v4h-4z"/>
<path fill="#485c00" d="M680 232h4v4h-4zM560 236h8v4h-8z"/>
<path fill="#486000" d="M580 232h8v4h-8z"/>
<path fill="#4a2000" d="M724 244h4v4h-4z"/>
<path fill="#4a2400" d="M868 232h4v4h-4zM856 244h4v4h-4zM904 284h4v4h-4zM900 296h4v4h-4zM856 300h4v4h-4zM896 304h4v2h-4z"/>
<path fill="#4a2800" d="M852 224h4v4h-4zM852 228h4v4h-4zM852 232h4v4h-4zM852 236h4v4h-4zM716 240h4v4h-4zM852 240h4v4h-4zM852 244h4v4h-4z"/>
<path fill="#4a3000" d="M820 52h4v4h-4zM820 56h4v4h-4zM812 60h8v4h-8zM788 64h8v4h-8zM748 68h28v4h-28z"/>
<path fill="#4a3400" d="M880 228h4v4h-4zM952 268h1v4h-1zM952 272h1v4h-1zM952 276h1v4h-1zM952 280h1v4h-1zM952 284h1v4h-1zM952 288h1v4h-1zM952 292h1v4h-1zM952 296h1v4h-1zM952 300h1v4h-1zM952 304h1v2h-1z"/>
<path fill="#4a3800" d="M708 292h4v4h-4zM708 296h4v4h-4z"/>
<path fill="#4a3c00" d="M700 272h4v4h-4zM704 284h4v4h-4zM548 292h4v4h-4z"/>
<path fill="#4a4000" d="M696 268h4v4h-4z"/>
<path fill="#4a4400" d="M692 264h4v4h-4zM508 304h4v2h-4zM532 304h4v2h-4z"/>
<path fill="#4a4800" d="M512 300h4v4h-4zM528 300h4v4h-4z"/>
<path fill="#4a4c00" d="M688 256h4v4h-4zM552 268h4v4h-4z"/>
<path fill="#4a5800" d="M684 244h4v4h-4zM556 248h4v4h-4z"/>
<path fill="#4a6000" d="M588 232h4v4h-4zM568 236h8v4h-8zM560 240h4v4h-4z"/>
<path fill="#4a6400" d="M592 232h8v4h-8zM632 232h48v4h-48z"/>
<path fill="#4c2400" d="M884 232h4v4h-4z"/>
<path fill="#4c2800" d="M844 148h4v4h-4zM896 240h4v4h-4zM852 248h4v4h-4zM852 252h4v4h-4zM904 280h4v4h-4z"/>
<path fill="#4c3400" d="M816 52h4v4h-4zM816 56h4v4h-4zM808 60h4v4h-4zM876 228h4v4h-4zM712 288h4v4h-4z"/>
<path fill="#4c3800" d="M708 300h4v4h-4zM708 304h4v2h-4z"/>
<path fill="#4c3c00" d="M700 276h4v4h-4zM704 288h4v4h-4zM548 296h4v4h-4z"/>
<path fill="#4c4000" d="M696 272h4v4h-4z"/>
<path fill="#4c4400" d="M692 268h4v4h-4z"/>
<path fill="#4c4800" d="M512 304h4v2h-4zM528 304h4v2h-4z"/>
<path fill="#4c4c00" d="M516 300h4v4h-4zM524 300h4v4h-4z"/>
<path fill="#4c5400" d="M384 300h8v4h-8zM388 304h4v2h-4z"/>
<path fill="#4c5800" d="M556 252h4v4h-4z"/>
<path fill="#4c6000" d="M564 240h4v4h-4z"/>
<path fill="#4c6400" d="M600 232h32v4h-32zM576 236h8v4h-8zM680 236h4v4h-4z"/>
<path fill="#4e2400" d="M728 280h4v4h-4z"/>
<path fill="#4e2800" d="M832 172h4v4h-4zM872 232h4v4h-4zM864 236h4v4h-4zM860 240h4v4h-4zM900 244h4v4h-4zM916 264h4v4h-4zM904 276h4v4h-4zM932 284h4v4h-4zM852 292h4v4h-4zM920 292h4v4h-4z"/>
<path fill="#4e2c00" d="M716 244h4v4h-4z"/>
<path fill="#4e3400" d="M808 52h8v4h-8zM808 56h8v4h-8zM800 60h8v4h-8zM784 64h4v4h-4zM712 292h4v4h-4z"/>
<path fill="#4e3c00" d="M700 280h4v4h-4zM700 284h4v4h-4zM704 292h4v4h-4zM704 296h4v4h-4z"/>
<path fill="#4e4000" d="M696 276h4v4h-4z"/>
<path fill="#4e4c00" d="M688 260h4v4h-4zM552 272h4v4h-4zM520 300h4v4h-4zM516 304h4v2h-4zM524 304h4v2h-4z"/>
<path fill="#4e5400" d="M384 304h4v2h-4z"/>
<path fill="#4e5800" d="M684 248h4v4h-4zM376 300h8v4h-8z"/>
<path fill="#4e6000" d="M568 240h4v4h-4zM560 244h4v4h-4z"/>
<path fill="#4e6400" d="M584 236h4v4h-4zM572 240h4v4h-4z"/>
<path fill="#4e6800" d="M588 236h4v4h-4z"/>
<path fill="#502400" d="M724 248h4v4h-4z"/>
<path fill="#502800" d="M852 256h4v4h-4zM904 272h4v4h-4zM852 288h4v4h-4z"/>
<path fill="#502c00" d="M836 156h4v4h-4zM848 176h4v4h-4zM852 296h4v4h-4zM852 300h4v4h-4zM852 304h4v2h-4z"/>
<path fill="#503400" d="M804 52h4v4h-4zM804 56h4v4h-4zM796 60h4v4h-4zM712 296h4v4h-4z"/>
<path fill="#503c00" d="M700 288h4v4h-4zM704 300h4v4h-4zM704 304h4v2h-4z"/>
<path fill="#504000" d="M696 280h4v4h-4z"/>
<path fill="#504400" d="M692 272h4v4h-4z"/>
<path fill="#504c00" d="M688 264h4v4h-4zM552 276h4v4h-4zM520 304h4v2h-4z"/>
<path fill="#505800" d="M684 252h4v4h-4zM556 256h4v4h-4zM372 300h4v4h-4zM376 304h8v2h-8z"/>
<path fill="#506000" d="M564 244h4v4h-4zM560 248h4v4h-4z"/>
<path fill="#506400" d="M576 240h4v4h-4zM680 240h4v4h-4zM568 244h4v4h-4z"/>
<path fill="#506800" d="M592 236h4v4h-4zM640 236h40v4h-40zM580 240h4v4h-4z"/>
<path fill="#506c00" d="M596 236h44v4h-44z"/>
<path fill="#522800" d="M912 260h4v4h-4zM908 276h4v4h-4zM928 280h4v4h-4zM900 292h4v4h-4zM924 296h4v4h-4zM896 300h4v4h-4zM860 304h4v2h-4z"/>
<path fill="#522c00" d="M844 152h4v4h-4z"/>
<path fill="#523400" d="M712 300h4v4h-4z"/>
<path fill="#523800" d="M800 52h4v4h-4zM800 56h4v4h-4zM788 60h8v4h-8zM780 64h4v4h-4z"/>
<path fill="#523c00" d="M700 292h4v4h-4zM700 296h4v4h-4zM700 300h4v4h-4z"/>
<path fill="#524000" d="M696 284h4v4h-4zM548 300h4v4h-4zM548 304h4v2h-4z"/>
<path fill="#524400" d="M692 276h4v4h-4z"/>
<path fill="#524c00" d="M552 280h4v4h-4z"/>
<path fill="#525800" d="M556 260h4v4h-4zM372 304h4v2h-4z"/>
<path fill="#525c00" d="M364 300h8v4h-8zM368 304h4v2h-4z"/>
<path fill="#526000" d="M564 248h4v4h-4z"/>
<path fill="#526400" d="M572 244h4v4h-4zM680 244h4v4h-4z"/>
<path fill="#526800" d="M584 240h4v4h-4zM576 244h4v4h-4z"/>
<path fill="#526c00" d="M588 240h4v4h-4z"/>
<path fill="#542400" d="M728 284h4v4h-4z"/>
<path fill="#542800" d="M888 236h4v4h-4zM856 248h4v4h-4zM852 260h4v4h-4zM852 284h4v4h-4zM856 296h4v4h-4z"/>
<path fill="#542c00" d="M716 248h4v4h-4z"/>
<path fill="#543400" d="M948 256h4v4h-4zM712 304h4v2h-4z"/>
<path fill="#543800" d="M792 52h8v4h-8zM792 56h8v4h-8zM776 64h4v4h-4z"/>
<path fill="#543c00" d="M700 304h4v2h-4z"/>
<path fill="#544000" d="M696 288h4v4h-4zM696 292h4v4h-4z"/>
<path fill="#544400" d="M692 280h4v4h-4z"/>
<path fill="#544c00" d="M688 268h4v4h-4z"/>
<path fill="#545800" d="M684 256h4v4h-4z"/>
<path fill="#545c00" d="M328 300h4v4h-4zM360 300h4v4h-4zM364 304h4v2h-4z"/>
<path fill="#546000" d="M560 252h4v4h-4z"/>
<path fill="#546400" d="M568 248h8v4h-8z"/>
<path fill="#546800" d="M580 244h8v4h-8z"/>
<path fill="#546c00" d="M592 240h4v4h-4zM624 240h56v4h-56z"/>
<path fill="#547000" d="M596 240h28v4h-28z"/>
<path fill="#562c00" d="M832 176h4v4h-4zM848 180h4v4h-4zM908 256h4v4h-4zM924 276h4v4h-4zM912 280h4v4h-4zM928 300h4v4h-4z"/>
<path fill="#563000" d="M844 156h4v4h-4z"/>
<path fill="#563400" d="M876 232h8v4h-8z"/>
<path fill="#563800" d="M788 52h4v4h-4zM788 56h4v4h-4z"/>
<path fill="#563c00" d="M784 60h4v4h-4z"/>
<path fill="#564000" d="M696 296h4v4h-4zM696 300h4v4h-4zM696 304h4v2h-4z"/>
<path fill="#564400" d="M692 284h4v4h-4zM692 288h4v4h-4z"/>
<path fill="#564c00" d="M688 272h4v4h-4zM552 284h4v4h-4z"/>
<path fill="#565800" d="M684 260h4v4h-4zM556 264h4v4h-4z"/>
<path fill="#565c00" d="M332 300h4v4h-4zM328 304h4v2h-4zM360 304h4v2h-4z"/>
<path fill="#566000" d="M564 252h4v4h-4zM352 300h8v4h-8zM356 304h4v2h-4z"/>
<path fill="#566400" d="M680 248h4v4h-4zM568 252h4v4h-4z"/>
<path fill="#566800" d="M576 248h8v4h-8z"/>
<path fill="#566c00" d="M588 244h8v4h-8zM648 244h32v4h-32z"/>
<path fill="#582400" d="M724 252h4v4h-4z"/>
<path fill="#582c00" d="M868 236h4v4h-4zM852 280h4v4h-4zM892 304h4v2h-4z"/>
<path fill="#583000" d="M716 252h4v4h-4z"/>
<path fill="#583800" d="M744 64h4v4h-4z"/>
<path fill="#583c00" d="M772 64h4v4h-4z"/>
<path fill="#584400" d="M692 292h4v4h-4zM692 296h4v4h-4z"/>
<path fill="#584c00" d="M688 276h4v4h-4zM552 288h4v4h-4z"/>
<path fill="#585c00" d="M332 304h4v2h-4z"/>
<path fill="#586000" d="M560 256h8v4h-8zM336 300h8v4h-8zM348 300h4v4h-4zM352 304h4v2h-4z"/>
<path fill="#586400" d="M572 252h4v4h-4zM680 252h4v4h-4z"/>
<path fill="#586800" d="M584 248h4v4h-4zM576 252h4v4h-4z"/>
<path fill="#586c00" d="M628 244h20v4h-20zM588 248h4v4h-4z"/>
<path fill="#587000" d="M596 244h32v4h-32z"/>
<path fill="#5a2400" d="M728 288h4v4h-4z"/>
<path fill="#5a2c00" d="M860 244h4v4h-4zM904 252h4v4h-4zM920 272h4v4h-4zM916 284h4v4h-4zM900 288h4v4h-4zM936 292h4v4h-4zM860 300h4v4h-4z"/>
<path fill="#5a3000" d="M840 136h4v4h-4zM832 180h4v4h-4zM848 184h4v4h-4zM832 296h4v4h-4zM832 300h4v4h-4zM832 304h4v2h-4z"/>
<path fill="#5a3c00" d="M784 52h4v4h-4zM784 56h4v4h-4zM748 64h24v4h-24z"/>
<path fill="#5a4400" d="M692 300h4v4h-4zM692 304h4v2h-4z"/>
<path fill="#5a4c00" d="M688 280h4v4h-4zM552 292h4v4h-4z"/>
<path fill="#5a5800" d="M684 264h4v4h-4zM556 268h4v4h-4z"/>
<path fill="#5a6000" d="M560 260h4v4h-4zM336 304h8v2h-8zM348 304h4v2h-4z"/>
<path fill="#5a6400" d="M568 256h4v4h-4zM344 300h4v4h-4zM344 304h4v2h-4z"/>
<path fill="#5a6800" d="M580 252h4v4h-4z"/>
<path fill="#5a6c00" d="M592 248h4v4h-4zM628 248h52v4h-52z"/>
<path fill="#5c2c00" d="M884 236h4v4h-4zM864 240h4v4h-4z"/>
<path fill="#5c3000" d="M844 160h4v4h-4zM856 252h4v4h-4zM716 256h4v4h-4zM832 268h4v4h-4zM832 272h4v4h-4zM832 276h4v4h-4zM832 280h4v4h-4zM832 284h4v4h-4zM832 288h4v4h-4zM832 292h4v4h-4zM856 292h4v4h-4zM896 296h4v4h-4z"/>
<path fill="#5c3c00" d="M780 60h4v4h-4z"/>
<path fill="#5c4c00" d="M688 284h4v4h-4zM552 296h4v4h-4z"/>
<path fill="#5c5800" d="M556 272h4v4h-4z"/>
<path fill="#5c6000" d="M564 260h4v4h-4z"/>
<path fill="#5c6400" d="M572 256h4v4h-4zM680 256h4v4h-4z"/>
<path fill="#5c6800" d="M584 252h4v4h-4zM576 256h4v4h-4z"/>
<path fill="#5c6c00" d="M588 252h4v4h-4z"/>
<path fill="#5c7000" d="M596 248h32v4h-32z"/>
<path fill="#5e2400" d="M728 292h4v4h-4z"/>
<path fill="#5e3000" d="M832 184h4v4h-4zM848 188h4v4h-4zM892 240h4v4h-4zM900 248h4v4h-4zM832 256h4v4h-4zM832 260h4v4h-4zM832 264h4v4h-4zM904 268h4v4h-4zM916 268h4v4h-4zM920 288h4v4h-4zM932 288h4v4h-4zM932 304h4v2h-4z"/>
<path fill="#5e3400" d="M832 244h4v4h-4zM832 248h4v4h-4zM832 252h4v4h-4z"/>
<path fill="#5e4000" d="M780 52h4v4h-4zM780 56h4v4h-4z"/>
<path fill="#5e4c00" d="M688 288h4v4h-4zM552 300h4v4h-4z"/>
<path fill="#5e5800" d="M684 268h4v4h-4z"/>
<path fill="#5e6000" d="M560 264h4v4h-4z"/>
<path fill="#5e6400" d="M568 260h8v4h-8z"/>
<path fill="#5e6800" d="M580 256h8v4h-8z"/>
<path fill="#5e6c00" d="M592 252h4v4h-4zM628 252h52v4h-52z"/>
<path fill="#5e7000" d="M596 252h4v4h-4zM616 252h12v4h-12z"/>
<path fill="#602800" d="M724 256h4v4h-4z"/>
<path fill="#602c00" d="M720 196h4v4h-4z"/>
<path fill="#603000" d="M872 236h4v4h-4zM900 284h4v4h-4zM864 304h4v2h-4z"/>
<path fill="#603400" d="M836 160h4v4h-4zM844 164h4v4h-4zM832 188h4v4h-4zM848 192h4v4h-4zM848 196h4v4h-4zM832 216h4v4h-4zM832 220h4v4h-4zM832 224h4v4h-4zM832 228h4v4h-4zM832 232h4v4h-4zM832 236h4v4h-4zM832 240h4v4h-4zM948 260h4v4h-4z"/>
<path fill="#604000" d="M776 60h4v4h-4z"/>
<path fill="#604c00" d="M688 292h4v4h-4zM688 296h4v4h-4zM688 300h4v4h-4zM552 304h4v2h-4z"/>
<path fill="#605800" d="M684 272h4v4h-4zM556 276h4v4h-4z"/>
<path fill="#606000" d="M564 264h4v4h-4z"/>
<path fill="#606400" d="M680 260h4v4h-4z"/>
<path fill="#606800" d="M576 260h4v4h-4z"/>
<path fill="#606c00" d="M588 256h4v4h-4z"/>
<path fill="#607000" d="M600 252h16v4h-16z"/>
<path fill="#622400" d="M728 296h4v4h-4z"/>
<path fill="#623000" d="M896 244h4v4h-4zM716 260h4v4h-4zM852 264h4v4h-4zM912 264h4v4h-4zM908 272h4v4h-4zM928 284h4v4h-4zM924 292h4v4h-4zM892 300h4v4h-4z"/>
<path fill="#623400" d="M840 140h4v4h-4zM832 192h4v4h-4zM832 196h4v4h-4zM832 200h4v4h-4zM848 200h4v4h-4zM832 204h4v4h-4zM848 204h4v4h-4zM832 208h4v4h-4zM848 208h4v4h-4zM832 212h4v4h-4zM848 212h4v4h-4zM848 216h4v4h-4zM848 220h4v4h-4zM880 236h4v4h-4z"/>
<path fill="#624000" d="M744 60h4v4h-4z"/>
<path fill="#624c00" d="M688 304h4v2h-4z"/>
<path fill="#625800" d="M556 280h4v4h-4z"/>
<path fill="#626000" d="M560 268h4v4h-4z"/>
<path fill="#626400" d="M568 264h8v4h-8z"/>
<path fill="#626800" d="M580 260h8v4h-8z"/>
<path fill="#626c00" d="M592 256h4v4h-4zM628 256h52v4h-52z"/>
<path fill="#627000" d="M596 256h4v4h-4zM616 256h12v4h-12z"/>
<path fill="#642c00" d="M720 200h4v4h-4z"/>
<path fill="#643000" d="M908 260h4v4h-4zM852 276h4v4h-4zM912 276h4v4h-4zM924 280h4v4h-4zM928 296h4v4h-4z"/>
<path fill="#643400" d="M848 224h4v4h-4zM848 228h4v4h-4zM848 232h4v4h-4zM848 236h4v4h-4zM876 236h4v4h-4zM848 240h4v4h-4zM848 244h4v4h-4zM848 248h4v4h-4zM900 264h4v4h-4zM900 280h4v4h-4z"/>
<path fill="#644400" d="M776 52h4v4h-4zM776 56h4v4h-4zM772 60h4v4h-4z"/>
<path fill="#645800" d="M684 276h4v4h-4z"/>
<path fill="#646000" d="M564 268h4v4h-4z"/>
<path fill="#646400" d="M680 264h4v4h-4zM568 268h4v4h-4z"/>
<path fill="#646800" d="M576 264h4v4h-4z"/>
<path fill="#646c00" d="M588 260h4v4h-4zM676 260h4v4h-4z"/>
<path fill="#647000" d="M600 256h16v4h-16z"/>
<path fill="#662400" d="M728 300h4v4h-4z"/>
<path fill="#662800" d="M724 260h4v4h-4z"/>
<path fill="#663000" d="M716 264h4v4h-4z"/>
<path fill="#663400" d="M888 240h4v4h-4zM860 248h4v4h-4zM848 252h4v4h-4zM856 256h4v4h-4zM904 256h4v4h-4zM900 260h4v4h-4zM920 276h4v4h-4zM916 280h4v4h-4zM856 288h4v4h-4zM860 296h4v4h-4zM936 296h4v4h-4zM932 300h4v4h-4zM888 304h4v2h-4z"/>
<path fill="#663800" d="M844 168h4v4h-4z"/>
<path fill="#664400" d="M744 52h4v4h-4zM744 56h4v4h-4zM748 60h24v4h-24z"/>
<path fill="#665800" d="M684 280h4v4h-4zM556 284h4v4h-4z"/>
<path fill="#666000" d="M560 272h8v4h-8z"/>
<path fill="#666400" d="M572 268h4v4h-4z"/>
<path fill="#666800" d="M580 264h8v4h-8z"/>
<path fill="#666c00" d="M592 260h4v4h-4zM628 260h48v4h-48z"/>
<path fill="#667000" d="M596 260h4v4h-4zM616 260h12v4h-12z"/>
<path fill="#682400" d="M728 304h4v2h-4z"/>
<path fill="#683000" d="M720 204h4v4h-4z"/>
<path fill="#683400" d="M868 240h4v4h-4zM900 252h4v4h-4zM904 264h4v4h-4zM948 264h4v4h-4zM900 268h4v4h-4zM900 272h4v4h-4zM916 272h4v4h-4zM900 276h4v4h-4zM920 284h4v4h-4zM896 292h4v4h-4zM932 292h4v4h-4z"/>
<path fill="#683800" d="M836 164h4v4h-4zM848 256h4v4h-4z"/>
<path fill="#684800" d="M772 52h4v4h-4zM772 56h4v4h-4z"/>
<path fill="#685800" d="M684 284h4v4h-4zM556 288h4v4h-4z"/>
<path fill="#686000" d="M560 276h4v4h-4z"/>
<path fill="#686400" d="M680 268h4v4h-4zM568 272h4v4h-4z"/>
<path fill="#686800" d="M576 268h4v4h-4z"/>
<path fill="#686c00" d="M588 264h4v4h-4zM676 264h4v4h-4z"/>
<path fill="#687000" d="M600 260h16v4h-16z"/>
<path fill="#6a3000" d="M720 208h4v4h-4zM716 268h4v4h-4z"/>
<path fill="#6a3400" d="M884 240h4v4h-4zM864 244h4v4h-4zM892 244h4v4h-4zM896 248h4v4h-4zM896 252h4v4h-4zM900 256h4v4h-4zM856 260h4v4h-4zM904 260h4v4h-4zM908 264h4v4h-4zM852 268h4v4h-4zM908 268h8v4h-8zM948 268h4v4h-4zM852 272h4v4h-4zM912 272h4v4h-4zM948 272h4v4h-4zM916 276h4v4h-4zM948 276h4v4h-4zM920 280h4v4h-4zM948 280h4v4h-4zM856 284h4v4h-4zM924 284h4v4h-4zM948 284h4v4h-4zM924 288h8v4h-8zM948 288h4v4h-4zM928 292h4v4h-4zM948 292h4v4h-4zM932 296h4v4h-4zM948 296h4v4h-4zM864 300h4v4h-4zM936 300h4v4h-4zM948 300h4v4h-4zM868 304h4v2h-4zM936 304h4v2h-4zM948 304h4v2h-4z"/>
<path fill="#6a3800" d="M844 172h4v4h-4z"/>
<path fill="#6a4800" d="M748 52h24v4h-24zM748 56h24v4h-24z"/>
<path fill="#6a5800" d="M684 288h4v4h-4zM556 292h4v4h-4z"/>
<path fill="#6a6000" d="M564 276h4v4h-4z"/>
<path fill="#6a6400" d="M572 272h4v4h-4z"/>
<path fill="#6a6800" d="M580 268h8v4h-8z"/>
<path fill="#6a6c00" d="M592 264h4v4h-4zM628 264h48v4h-48z"/>
<path fill="#6a7000" d="M596 264h4v4h-4zM620 264h8v4h-8z"/>
<path fill="#6c2800" d="M724 264h4v4h-4z"/>
<path fill="#6c3000" d="M720 212h4v4h-4z"/>
<path fill="#6c3800" d="M840 144h4v4h-4zM836 168h4v4h-4zM844 176h4v4h-4zM848 260h4v4h-4z"/>
<path fill="#6c5800" d="M684 292h4v4h-4zM556 296h4v4h-4zM556 300h4v4h-4z"/>
<path fill="#6c6000" d="M560 280h4v4h-4z"/>
<path fill="#6c6400" d="M680 272h4v4h-4zM568 276h4v4h-4z"/>
<path fill="#6c6800" d="M576 272h8v4h-8z"/>
<path fill="#6c6c00" d="M588 268h4v4h-4zM676 268h4v4h-4z"/>
<path fill="#6c7000" d="M600 264h20v4h-20z"/>
<path fill="#6e3000" d="M720 216h4v4h-4zM720 220h4v4h-4zM716 272h4v4h-4z"/>
<path fill="#6e3400" d="M720 224h4v4h-4zM872 240h4v4h-4zM888 244h4v4h-4zM892 248h4v4h-4zM896 256h4v4h-4zM856 264h4v4h-4zM856 280h4v4h-4zM896 288h4v4h-4zM892 296h4v4h-4zM888 300h4v4h-4zM884 304h4v2h-4z"/>
<path fill="#6e3800" d="M836 172h4v4h-4zM844 180h4v4h-4zM848 264h4v4h-4zM848 268h4v4h-4zM848 272h4v4h-4z"/>
<path fill="#6e5800" d="M684 296h4v4h-4zM684 300h4v4h-4zM556 304h4v2h-4zM684 304h4v2h-4z"/>
<path fill="#6e6000" d="M564 280h4v4h-4zM560 284h4v4h-4z"/>
<path fill="#6e6400" d="M572 276h4v4h-4zM680 276h4v4h-4zM568 280h4v4h-4z"/>
<path fill="#6e6800" d="M584 272h4v4h-4zM576 276h4v4h-4z"/>
<path fill="#6e6c00" d="M592 268h4v4h-4zM628 268h48v4h-48z"/>
<path fill="#6e7000" d="M620 268h8v4h-8z"/>
<path fill="#703400" d="M720 228h4v4h-4zM720 232h4v4h-4zM876 240h8v4h-8zM860 252h4v4h-4zM860 292h4v4h-4zM872 304h4v2h-4z"/>
<path fill="#703800" d="M836 176h4v4h-4zM836 180h4v4h-4zM844 184h4v4h-4zM844 188h4v4h-4zM848 276h4v4h-4zM848 280h4v4h-4zM848 284h4v4h-4z"/>
<path fill="#706000" d="M564 284h4v4h-4zM560 288h4v4h-4z"/>
<path fill="#706400" d="M572 280h4v4h-4z"/>
<path fill="#706800" d="M580 276h4v4h-4z"/>
<path fill="#706c00" d="M588 272h4v4h-4zM668 272h12v4h-12z"/>
<path fill="#707000" d="M596 268h24v4h-24z"/>
<path fill="#722800" d="M724 268h4v4h-4z"/>
<path fill="#723000" d="M716 276h4v4h-4z"/>
<path fill="#723400" d="M720 236h4v4h-4zM856 268h4v4h-4zM856 272h4v4h-4zM856 276h4v4h-4zM880 304h4v2h-4z"/>
<path fill="#723800" d="M836 184h4v4h-4zM836 188h4v4h-4zM836 192h4v4h-4zM844 192h4v4h-4zM836 196h4v4h-4zM844 196h4v4h-4zM836 200h4v4h-4zM844 200h4v4h-4zM836 204h4v4h-4zM844 204h4v4h-4zM836 208h4v4h-4zM844 208h4v4h-4zM836 212h4v4h-4zM844 212h4v4h-4zM836 216h4v4h-4zM844 216h4v4h-4zM836 220h4v4h-4zM844 220h4v4h-4zM836 224h4v4h-4zM844 224h4v4h-4zM836 228h4v4h-4zM836 232h4v4h-4zM848 288h4v4h-4zM848 292h4v4h-4zM848 296h4v4h-4z"/>
<path fill="#726000" d="M564 288h4v4h-4zM560 292h4v4h-4z"/>
<path fill="#726400" d="M680 280h4v4h-4zM568 284h4v4h-4z"/>
<path fill="#726800" d="M584 276h4v4h-4zM576 280h4v4h-4z"/>
<path fill="#726c00" d="M592 272h4v4h-4zM628 272h40v4h-40z"/>
<path fill="#727000" d="M596 272h4v4h-4zM620 272h8v4h-8z"/>
<path fill="#743400" d="M720 240h4v4h-4zM868 244h4v4h-4zM864 248h4v4h-4zM896 260h4v4h-4zM896 284h4v4h-4zM864 296h4v4h-4zM868 300h4v4h-4zM876 304h4v2h-4z"/>
<path fill="#743800" d="M840 148h4v4h-4zM844 228h4v4h-4zM848 300h4v4h-4zM848 304h4v2h-4z"/>
<path fill="#746000" d="M564 292h4v4h-4zM560 296h4v4h-4zM560 300h4v4h-4zM560 304h4v2h-4z"/>
<path fill="#746400" d="M572 284h4v4h-4zM680 284h4v4h-4zM568 288h4v4h-4z"/>
<path fill="#746800" d="M580 280h4v4h-4zM576 284h4v4h-4z"/>
<path fill="#746c00" d="M588 276h4v4h-4zM660 276h20v4h-20z"/>
<path fill="#747000" d="M600 272h20v4h-20z"/>
<path fill="#763000" d="M716 280h4v4h-4z"/>
<path fill="#763400" d="M720 244h4v4h-4zM892 252h4v4h-4zM860 256h4v4h-4zM860 288h4v4h-4zM892 292h4v4h-4z"/>
<path fill="#763800" d="M840 152h4v4h-4zM836 236h4v4h-4z"/>
<path fill="#766000" d="M564 296h4v4h-4zM564 300h4v4h-4zM564 304h4v2h-4z"/>
<path fill="#766400" d="M572 288h4v4h-4zM680 288h4v4h-4zM568 292h4v4h-4z"/>
<path fill="#766800" d="M584 280h4v4h-4zM580 284h4v4h-4z"/>
<path fill="#766c00" d="M592 276h4v4h-4zM628 276h32v4h-32zM588 280h4v4h-4z"/>
<path fill="#767000" d="M596 276h4v4h-4zM612 276h16v4h-16z"/>
<path fill="#782800" d="M724 272h4v4h-4z"/>
<path fill="#783000" d="M716 284h4v4h-4z"/>
<path fill="#783400" d="M884 244h4v4h-4zM896 264h4v4h-4zM896 280h4v4h-4zM884 300h4v4h-4z"/>
<path fill="#783800" d="M840 156h4v4h-4zM840 160h4v4h-4zM840 164h4v4h-4zM840 168h4v4h-4zM840 172h4v4h-4zM840 176h4v4h-4zM840 180h4v4h-4zM840 184h4v4h-4zM840 188h4v4h-4zM840 192h4v4h-4zM840 196h4v4h-4zM840 200h4v4h-4zM840 204h4v4h-4zM840 208h4v4h-4zM840 212h4v4h-4zM840 216h4v4h-4zM844 232h4v4h-4z"/>
<path fill="#786400" d="M572 292h4v4h-4zM680 292h4v4h-4zM568 296h4v4h-4zM568 300h4v4h-4zM568 304h4v2h-4z"/>
<path fill="#786800" d="M584 284h4v4h-4zM576 288h4v4h-4z"/>
<path fill="#786c00" d="M592 280h4v4h-4zM644 280h36v4h-36z"/>
<path fill="#787000" d="M600 276h12v4h-12z"/>
<path fill="#7a3400" d="M872 244h4v4h-4zM720 248h4v4h-4zM888 248h4v4h-4zM888 296h4v4h-4zM872 300h4v4h-4z"/>
<path fill="#7a3800" d="M840 220h4v4h-4z"/>
<path fill="#7a6400" d="M572 296h4v4h-4zM680 296h4v4h-4zM572 300h4v4h-4zM680 300h4v4h-4zM572 304h4v2h-4zM680 304h4v2h-4z"/>
<path fill="#7a6800" d="M580 288h8v4h-8zM576 292h4v4h-4zM576 296h4v4h-4z"/>
<path fill="#7a6c00" d="M628 280h16v4h-16zM588 284h4v4h-4zM664 284h16v4h-16z"/>
<path fill="#7a7000" d="M596 280h32v4h-32z"/>
<path fill="#7c3000" d="M716 288h4v4h-4z"/>
<path fill="#7c3400" d="M880 244h4v4h-4zM896 268h4v4h-4zM896 272h4v4h-4zM896 276h4v4h-4zM880 300h4v4h-4z"/>
<path fill="#7c3800" d="M836 240h4v4h-4z"/>
<path fill="#7c6800" d="M580 292h8v4h-8zM580 296h4v4h-4zM576 300h4v4h-4zM576 304h4v2h-4z"/>
<path fill="#7c6c00" d="M592 284h4v4h-4zM628 284h36v4h-36zM588 288h4v4h-4zM676 288h4v4h-4z"/>
<path fill="#7c7000" d="M624 284h4v4h-4z"/>
<path fill="#7e2c00" d="M724 276h4v4h-4z"/>
<path fill="#7e3000" d="M716 292h4v4h-4z"/>
<path fill="#7e3400" d="M876 244h4v4h-4zM720 252h4v4h-4zM864 252h4v4h-4zM860 260h4v4h-4zM860 284h4v4h-4zM864 292h4v4h-4zM876 300h4v4h-4z"/>
<path fill="#7e3800" d="M840 224h4v4h-4zM844 236h4v4h-4z"/>
<path fill="#7e6800" d="M584 296h4v4h-4zM580 300h4v4h-4zM580 304h4v2h-4z"/>
<path fill="#7e6c00" d="M592 288h4v4h-4zM636 288h40v4h-40zM588 292h4v4h-4zM676 292h4v4h-4z"/>
<path fill="#7e7000" d="M596 284h28v4h-28z"/>
<path fill="#803000" d="M716 296h4v4h-4zM716 300h4v4h-4zM716 304h4v2h-4z"/>
<path fill="#803400" d="M868 248h4v4h-4zM892 256h4v4h-4zM892 288h4v4h-4zM868 296h4v4h-4z"/>
<path fill="#803800" d="M836 244h4v4h-4z"/>
<path fill="#806800" d="M584 300h4v4h-4zM584 304h4v2h-4z"/>
<path fill="#806c00" d="M628 288h8v4h-8zM592 292h4v4h-4zM640 292h36v4h-36zM588 296h4v4h-4zM664 296h16v4h-16zM676 300h4v4h-4zM676 304h4v2h-4z"/>
<path fill="#807000" d="M596 288h32v4h-32z"/>
<path fill="#823400" d="M720 256h4v4h-4zM860 264h4v4h-4zM860 280h4v4h-4z"/>
<path fill="#823800" d="M840 228h4v4h-4zM844 240h4v4h-4z"/>
<path fill="#826c00" d="M628 292h12v4h-12zM592 296h4v4h-4zM628 296h36v4h-36zM588 300h8v4h-8zM644 300h32v4h-32zM588 304h4v2h-4zM644 304h32v2h-32z"/>
<path fill="#827000" d="M596 292h4v4h-4zM604 292h24v4h-24z"/>
<path fill="#842c00" d="M724 280h4v4h-4z"/>
<path fill="#843400" d="M884 248h4v4h-4zM884 296h4v4h-4z"/>
<path fill="#843800" d="M836 248h4v4h-4z"/>
<path fill="#846c00" d="M628 300h16v4h-16zM592 304h4v2h-4zM628 304h16v2h-16z"/>
<path fill="#847000" d="M600 292h4v4h-4zM596 296h32v4h-32zM596 300h4v4h-4zM612 300h16v4h-16zM596 304h4v2h-4zM612 304h16v2h-16z"/>
<path fill="#863400" d="M888 252h4v4h-4zM720 260h4v4h-4zM892 260h4v4h-4zM860 268h4v4h-4zM860 272h4v4h-4zM860 276h4v4h-4zM892 284h4v4h-4zM888 292h4v4h-4z"/>
<path fill="#863800" d="M840 232h4v4h-4z"/>
<path fill="#867000" d="M600 300h12v4h-12zM600 304h12v2h-12z"/>
<path fill="#882c00" d="M724 284h4v4h-4z"/>
<path fill="#883400" d="M872 248h4v4h-4zM864 256h4v4h-4zM864 288h4v4h-4zM872 296h4v4h-4z"/>
<path fill="#883800" d="M844 244h4v4h-4zM836 252h4v4h-4z"/>
<path fill="#8a3400" d="M880 248h4v4h-4zM720 264h4v4h-4zM880 296h4v4h-4z"/>
<path fill="#8a3800" d="M836 256h4v4h-4zM836 292h4v4h-4zM836 296h4v4h-4zM836 300h4v4h-4zM836 304h4v2h-4z"/>
<path fill="#8c3400" d="M876 248h4v4h-4zM868 252h4v4h-4zM892 264h4v4h-4zM892 280h4v4h-4zM868 292h4v4h-4zM876 296h4v4h-4z"/>
<path fill="#8c3800" d="M840 236h4v4h-4zM836 280h4v4h-4zM836 284h4v4h-4zM836 288h4v4h-4z"/>
<path fill="#8e2c00" d="M724 288h4v4h-4z"/>
<path fill="#8e3400" d="M720 268h4v4h-4z"/>
<path fill="#8e3800" d="M844 248h4v4h-4zM836 260h4v4h-4zM836 264h4v4h-4zM836 268h4v4h-4zM836 272h4v4h-4zM836 276h4v4h-4z"/>
<path fill="#902c00" d="M724 292h4v4h-4z"/>
<path fill="#903400" d="M884 252h4v4h-4zM888 256h4v4h-4zM864 260h4v4h-4zM892 268h4v4h-4zM892 272h4v4h-4zM892 276h4v4h-4zM864 284h4v4h-4zM888 288h4v4h-4zM884 292h4v4h-4z"/>
<path fill="#923400" d="M720 272h4v4h-4z"/>
<path fill="#923800" d="M840 240h4v4h-4z"/>
<path fill="#942c00" d="M724 296h4v4h-4z"/>
<path fill="#943000" d="M724 300h4v4h-4z"/>
<path fill="#943400" d="M872 252h4v4h-4zM872 292h4v4h-4z"/>
<path fill="#943800" d="M844 252h4v4h-4z"/>
<path fill="#963000" d="M724 304h4v2h-4z"/>
<path fill="#963400" d="M868 256h4v4h-4zM864 264h4v4h-4zM720 276h4v4h-4zM864 280h4v4h-4zM868 288h4v4h-4z"/>
<path fill="#983000" d="M720 280h4v4h-4z"/>
<path fill="#983400" d="M876 252h8v4h-8zM888 260h4v4h-4zM888 284h4v4h-4zM876 292h8v4h-8z"/>
<path fill="#983800" d="M840 244h4v4h-4zM844 256h4v4h-4z"/>
<path fill="#9a3400" d="M864 268h4v4h-4zM864 272h4v4h-4zM864 276h4v4h-4z"/>
<path fill="#9c3000" d="M720 284h4v4h-4z"/>
<path fill="#9c3400" d="M884 256h4v4h-4zM884 288h4v4h-4z"/>
<path fill="#9c3800" d="M844 260h4v4h-4z"/>
<path fill="#9e3000" d="M720 288h4v4h-4z"/>
<path fill="#9e3400" d="M868 260h4v4h-4zM888 264h4v4h-4zM888 280h4v4h-4zM868 284h4v4h-4z"/>
<path fill="#9e3800" d="M840 248h4v4h-4zM844 264h4v4h-4z"/>
<path fill="#a03000" d="M720 292h4v4h-4zM720 296h4v4h-4zM720 300h4v4h-4zM720 304h4v2h-4z"/>
<path fill="#a03400" d="M872 256h4v4h-4zM872 288h4v4h-4z"/>
<path fill="#a03800" d="M844 268h4v4h-4zM844 272h4v4h-4zM844 276h4v4h-4zM844 280h4v4h-4zM844 284h4v4h-4z"/>
<path fill="#a23400" d="M880 256h4v4h-4zM888 268h4v4h-4zM888 276h4v4h-4zM880 288h4v4h-4z"/>
<path fill="#a23800" d="M844 288h4v4h-4zM844 292h4v4h-4zM844 296h4v4h-4zM844 300h4v4h-4zM844 304h4v2h-4z"/>
<path fill="#a43400" d="M876 256h4v4h-4zM884 260h4v4h-4zM888 272h4v4h-4zM884 284h4v4h-4zM876 288h4v4h-4z"/>
<path fill="#a43800" d="M840 252h4v4h-4z"/>
<path fill="#a63400" d="M868 264h4v4h-4zM868 280h4v4h-4z"/>
<path fill="#a83800" d="M840 256h4v4h-4z"/>
<path fill="#aa3400" d="M872 260h4v4h-4zM868 268h4v4h-4zM868 272h4v4h-4zM868 276h4v4h-4zM872 284h4v4h-4z"/>
<path fill="#ac3400" d="M880 260h4v4h-4zM884 264h4v4h-4zM884 280h4v4h-4zM880 284h4v4h-4z"/>
<path fill="#ac3800" d="M840 260h4v4h-4zM840 304h4v2h-4z"/>
<path fill="#ae3400" d="M876 260h4v4h-4zM876 284h4v4h-4z"/>
<path fill="#ae3800" d="M840 264h4v4h-4zM840 268h4v4h-4zM840 272h4v4h-4zM840 276h4v4h-4zM840 280h4v4h-4zM840 284h4v4h-4zM840 288h4v4h-4zM840 292h4v4h-4zM840 296h4v4h-4zM840 300h4v4h-4z"/>
<path fill="#b03400" d="M872 264h4v4h-4zM884 268h4v4h-4zM884 276h4v4h-4zM872 280h4v4h-4z"/>
<path fill="#b23400" d="M884 272h4v4h-4z"/>
<path fill="#b43400" d="M880 264h4v4h-4zM872 268h4v4h-4zM872 276h4v4h-4zM880 280h4v4h-4z"/>
<path fill="#b63400" d="M876 264h4v4h-4zM872 272h4v4h-4zM876 280h4v4h-4z"/>
<path fill="#b83400" d="M880 268h4v4h-4zM880 276h4v4h-4z"/>
<path fill="#ba3400" d="M876 268h4v4h-4zM880 272h4v4h-4zM876 276h4v4h-4z"/>
<path fill="#bc3400" d="M876 272h4v4h-4z"/>
<rect x="328" y="118" width="625" height="2" fill="#100000"/>
<rect x="446" y="138" width="1" height="88" fill="#445000"/>
<rect x="454" y="138" width="1" height="88" fill="#4c5000"/>
<rect x="458" y="138" width="1" height="88" fill="#445000"/>
<rect x="461" y="138" width="1" height="88" fill="#505000"/>
<rect x="463" y="138" width="1" height="88" fill="#445000"/>
<rect x="466" y="138" width="1" height="88" fill="#565000"/>
<rect x="469" y="138" width="1" height="88" fill="#505000"/>
<rect x="473" y="138" width="1" height="88" fill="#485000"/>
<rect x="384" y="138" width="1" height="88" fill="#445000"/>
<rect x="386" y="138" width="1" height="88" fill="#445000"/>
<rect x="462" y="150" width="10" height="3" fill="#726400"/>
<rect x="455" y="158" width="4" height="3" fill="#666400"/>
<rect x="462" y="161" width="8" height="4" fill="#6a6400"/>
<rect x="458" y="171" width="5" height="3" fill="#666400"/>
<rect x="358" y="164" width="10" height="3" fill="#4c2000"/>
<rect x="370" y="164" width="8" height="3" fill="#6a2000"/>
<rect x="380" y="164" width="6" height="3" fill="#4c2000"/>
<rect x="388" y="164" width="8" height="3" fill="#802000"/>
<rect x="398" y="164" width="5" height="3" fill="#582000"/>
<rect x="404" y="164" width="4" height="3" fill="#9e2000"/>
<rect x="334" y="171" width="10" height="2" fill="#381800"/>
<rect x="328" y="180" width="10" height="3" fill="#542400"/>
<rect x="338" y="180" width="8" height="3" fill="#322400"/>
<rect x="404" y="180" width="5" height="3" fill="#4c2400"/>
<rect x="430" y="180" width="10" height="3" fill="#4c2400"/>
<rect x="440" y="180" width="8" height="3" fill="#722400"/>
<rect x="448" y="180" width="10" height="3" fill="#9e2400"/>
<rect x="458" y="180" width="8" height="3" fill="#8c2400"/>
<rect x="466" y="180" width="12" height="3" fill="#c62400"/>
<rect x="478" y="180" width="8" height="3" fill="#802400"/>
<rect x="486" y="180" width="14" height="3" fill="#542400"/>
<rect x="500" y="180" width="12" height="3" fill="#382400"/>
<rect x="512" y="180" width="10" height="3" fill="#4c2400"/>
<rect x="522" y="180" width="14" height="3" fill="#5c2400"/>
<rect x="536" y="180" width="12" height="3" fill="#4c2400"/>
<rect x="548" y="180" width="6" height="3" fill="#322400"/>
<rect x="600" y="180" width="4" height="3" fill="#4c2400"/>
<rect x="611" y="180" width="8" height="3" fill="#482400"/>
<rect x="620" y="180" width="6" height="3" fill="#602400"/>
<rect x="644" y="180" width="3" height="3" fill="#4c2400"/>
<rect x="648" y="180" width="3" height="3" fill="#402400"/>
<rect x="328" y="183" width="625" height="2" fill="#300800"/>
<rect x="343" y="186" width="8" height="3" fill="#4c2400"/>
<rect x="355" y="186" width="6" height="3" fill="#402400"/>
<rect x="372" y="186" width="4" height="3" fill="#4c2400"/>
<rect x="390" y="186" width="8" height="3" fill="#662400"/>
<rect x="404" y="186" width="4" height="3" fill="#582400"/>
<rect x="376" y="190" width="6" height="3" fill="#382400"/>
<rect x="386" y="194" width="10" height="3" fill="#5c2400"/>
<rect x="398" y="194" width="6" height="3" fill="#4c2400"/>
<rect x="408" y="194" width="8" height="3" fill="#402400"/>
<rect x="440" y="190" width="4" height="3" fill="#4c2400"/>
<rect x="512" y="189" width="3" height="3" fill="#4c2400"/>
<rect x="520" y="189" width="5" height="3" fill="#582400"/>
<rect x="805" y="170" width="30" height="3" fill="#381800"/>
<rect x="848" y="170" width="22" height="3" fill="#321800"/>
<rect x="800" y="180" width="34" height="3" fill="#421800"/>
<rect x="848" y="180" width="24" height="3" fill="#3c1800"/>
<rect x="788" y="180" width="6" height="3" fill="#401800"/>
<rect x="770" y="188" width="64" height="4" fill="#4c2000"/>
<rect x="848" y="188" width="28" height="4" fill="#481800"/>
<rect x="757" y="188" width="8" height="4" fill="#323400"/>
<rect x="755" y="199" width="78" height="3" fill="#324c00"/>
<rect x="848" y="199" width="24" height="3" fill="#324c00"/>
<rect x="755" y="207" width="60" height="3" fill="#263400"/>
</g>
<g filter="url(#fb)">
<rect x="328" y="312" width="625" height="93" fill="#602000"/>
<path fill="#300c00" d="M744 312h80v4h-80zM744 316h80v4h-80zM744 320h80v4h-80zM744 324h80v4h-80zM744 328h76v4h-76zM744 332h76v4h-76zM744 336h76v4h-76zM744 340h72v4h-72zM744 344h72v4h-72zM748 348h68v4h-68zM748 352h64v4h-64z"/>
<path fill="#320c00" d="M528 312h20v4h-20zM824 312h4v4h-4zM528 316h20v4h-20zM528 320h20v4h-20zM820 328h4v4h-4zM820 332h4v4h-4zM816 340h4v4h-4zM816 344h4v4h-4zM744 348h4v4h-4zM812 352h4v4h-4zM748 356h64v4h-64z"/>
<path fill="#340c00" d="M496 312h32v4h-32zM496 316h32v4h-32zM824 316h4v4h-4zM496 320h32v4h-32zM824 320h4v4h-4zM504 324h44v4h-44zM820 336h4v4h-4zM820 340h4v4h-4zM816 348h4v4h-4zM744 352h4v4h-4zM816 352h4v4h-4zM812 356h4v4h-4zM748 360h64v4h-64z"/>
<path fill="#360c00" d="M488 312h8v4h-8zM488 316h8v4h-8zM488 320h8v4h-8zM496 324h8v4h-8zM824 324h4v4h-4zM524 328h24v4h-24zM748 364h60v4h-60z"/>
<path fill="#361000" d="M464 312h24v4h-24zM464 316h24v4h-24zM464 320h24v4h-24zM472 324h24v4h-24zM496 328h28v4h-28zM824 328h4v4h-4zM820 344h4v4h-4zM820 348h4v4h-4zM744 356h4v4h-4zM816 356h4v4h-4zM812 360h4v4h-4zM808 364h4v4h-4z"/>
<path fill="#381000" d="M328 312h68v4h-68zM448 312h16v4h-16zM548 312h4v4h-4zM328 316h68v4h-68zM448 316h16v4h-16zM548 316h4v4h-4zM328 320h68v4h-68zM448 320h16v4h-16zM548 320h4v4h-4zM328 324h68v4h-68zM448 324h24v4h-24zM548 324h4v4h-4zM328 328h16v4h-16zM460 328h36v4h-36zM500 332h48v4h-48zM824 332h4v4h-4zM820 352h4v4h-4zM812 364h4v4h-4zM748 368h64v4h-64z"/>
<path fill="#3a1000" d="M344 328h52v4h-52zM452 328h8v4h-8zM488 332h12v4h-12zM824 336h4v4h-4zM744 360h4v4h-4zM816 360h4v4h-4z"/>
<path fill="#3a1400" d="M396 312h4v4h-4zM444 312h4v4h-4zM396 316h4v4h-4zM444 316h4v4h-4zM396 320h4v4h-4zM444 320h4v4h-4zM396 324h4v4h-4zM448 328h4v4h-4zM548 328h4v4h-4zM328 332h68v4h-68zM460 332h28v4h-28zM520 336h20v4h-20zM824 340h4v4h-4zM820 356h4v4h-4zM748 372h60v4h-60z"/>
<path fill="#3c1400" d="M444 324h4v4h-4zM396 328h4v4h-4zM444 328h4v4h-4zM396 332h4v4h-4zM448 332h12v4h-12zM328 336h68v4h-68zM468 336h52v4h-52zM540 336h8v4h-8zM824 344h4v4h-4zM744 364h4v4h-4zM816 364h4v4h-4zM812 368h4v4h-4zM808 372h4v4h-4zM748 376h60v4h-60z"/>
<path fill="#3e1400" d="M400 312h4v4h-4zM740 312h4v4h-4zM400 316h4v4h-4zM740 316h4v4h-4zM400 320h4v4h-4zM740 320h4v4h-4zM400 324h4v4h-4zM740 324h4v4h-4zM740 328h4v4h-4zM548 332h4v4h-4zM456 336h12v4h-12zM328 340h16v4h-16zM820 360h4v4h-4z"/>
<path fill="#3e1800" d="M440 312h4v4h-4zM828 312h4v4h-4zM440 316h4v4h-4zM440 320h4v4h-4zM440 324h4v4h-4zM400 328h4v4h-4zM444 332h4v4h-4zM740 332h4v4h-4zM396 336h4v4h-4zM448 336h8v4h-8zM344 340h52v4h-52zM504 340h36v4h-36zM824 348h4v4h-4zM816 368h4v4h-4zM812 372h4v4h-4zM808 376h4v4h-4zM748 380h60v4h-60z"/>
<path fill="#401800" d="M404 312h4v4h-4zM436 312h4v4h-4zM404 316h4v4h-4zM436 316h4v4h-4zM828 316h4v4h-4zM404 320h4v4h-4zM436 320h4v4h-4zM828 320h4v4h-4zM404 324h4v4h-4zM440 328h4v4h-4zM400 332h4v4h-4zM440 332h4v4h-4zM444 336h4v4h-4zM548 336h4v4h-4zM740 336h4v4h-4zM396 340h4v4h-4zM448 340h56v4h-56zM540 340h8v4h-8zM328 344h64v4h-64zM820 364h4v4h-4zM744 368h4v4h-4z"/>
<path fill="#421800" d="M436 324h4v4h-4zM404 328h4v4h-4zM400 336h4v4h-4zM740 340h4v4h-4zM392 344h4v4h-4zM328 348h12v4h-12zM812 376h4v4h-4zM808 380h4v4h-4zM748 384h60v4h-60z"/>
<path fill="#421c00" d="M828 324h4v4h-4zM940 324h4v4h-4zM436 328h4v4h-4zM940 328h4v4h-4zM404 332h4v4h-4zM940 332h4v4h-4zM940 336h4v4h-4zM940 340h4v4h-4zM496 344h40v4h-40zM936 344h8v4h-8zM340 348h36v4h-36zM936 348h8v4h-8zM824 352h4v4h-4zM936 352h8v4h-8zM936 356h4v4h-4zM936 360h4v4h-4zM936 364h4v4h-4zM936 368h4v4h-4zM816 372h4v4h-4zM936 372h4v4h-4z"/>
<path fill="#441c00" d="M408 312h4v4h-4zM432 312h4v4h-4zM552 312h4v4h-4zM940 312h4v4h-4zM408 316h4v4h-4zM432 316h4v4h-4zM552 316h4v4h-4zM940 316h4v4h-4zM408 320h4v4h-4zM432 320h4v4h-4zM552 320h4v4h-4zM940 320h4v4h-4zM408 324h4v4h-4zM432 324h4v4h-4zM552 324h4v4h-4zM408 328h4v4h-4zM432 328h4v4h-4zM828 328h4v4h-4zM936 328h4v4h-4zM436 332h4v4h-4zM936 332h4v4h-4zM404 336h4v4h-4zM440 336h4v4h-4zM936 336h4v4h-4zM400 340h4v4h-4zM444 340h4v4h-4zM548 340h4v4h-4zM936 340h4v4h-4zM396 344h4v4h-4zM448 344h48v4h-48zM536 344h12v4h-12zM740 344h4v4h-4zM376 348h20v4h-20zM328 352h36v4h-36zM824 356h4v4h-4zM940 356h4v4h-4zM940 360h4v4h-4zM940 364h4v4h-4zM820 368h4v4h-4zM940 368h4v4h-4zM744 372h4v4h-4zM940 372h4v4h-4zM936 376h8v4h-8zM812 380h4v4h-4zM936 380h8v4h-8zM808 384h4v4h-4zM936 384h8v4h-8zM748 388h60v4h-60zM936 388h8v4h-8zM936 392h8v4h-8zM936 396h8v4h-8zM936 400h8v4h-8zM936 404h8v1h-8z"/>
<path fill="#461c00" d="M944 312h4v4h-4zM944 316h4v4h-4zM936 320h4v4h-4zM944 320h4v4h-4zM936 324h4v4h-4zM944 324h4v4h-4zM552 328h4v4h-4zM944 328h4v4h-4zM440 340h4v4h-4zM364 352h12v4h-12zM932 364h4v4h-4zM816 376h4v4h-4zM748 392h56v4h-56z"/>
<path fill="#462000" d="M428 312h4v4h-4zM936 312h4v4h-4zM428 316h4v4h-4zM936 316h4v4h-4zM428 320h4v4h-4zM408 332h4v4h-4zM432 332h4v4h-4zM828 332h4v4h-4zM944 332h4v4h-4zM436 336h4v4h-4zM944 336h4v4h-4zM404 340h4v4h-4zM944 340h4v4h-4zM400 344h4v4h-4zM444 344h4v4h-4zM944 344h4v4h-4zM396 348h4v4h-4zM740 348h4v4h-4zM944 348h4v4h-4zM376 352h20v4h-20zM328 356h24v4h-24zM932 356h4v4h-4zM932 360h4v4h-4zM932 368h4v4h-4zM820 372h4v4h-4zM932 372h4v4h-4zM932 376h4v4h-4zM932 380h4v4h-4zM932 384h4v4h-4zM808 388h4v4h-4zM932 388h4v4h-4zM804 392h4v4h-4zM932 392h4v4h-4zM932 396h4v4h-4zM932 400h4v4h-4zM932 404h4v1h-4z"/>
<path fill="#482000" d="M412 312h4v4h-4zM412 316h4v4h-4zM412 320h4v4h-4zM428 324h4v4h-4zM428 328h4v4h-4zM552 332h4v4h-4zM408 336h4v4h-4zM432 336h4v4h-4zM828 336h4v4h-4zM436 340h4v4h-4zM404 344h4v4h-4zM440 344h4v4h-4zM548 344h4v4h-4zM932 344h4v4h-4zM400 348h4v4h-4zM448 348h100v4h-100zM932 348h4v4h-4zM396 352h4v4h-4zM932 352h4v4h-4zM944 352h4v4h-4zM352 356h36v4h-36zM944 356h4v4h-4zM328 360h20v4h-20zM824 360h4v4h-4zM944 360h4v4h-4zM944 364h4v4h-4zM944 368h4v4h-4zM928 372h4v4h-4zM744 376h4v4h-4zM928 376h4v4h-4zM816 380h4v4h-4zM928 380h4v4h-4zM812 384h4v4h-4zM928 384h4v4h-4zM928 388h4v4h-4zM808 392h4v4h-4zM928 392h4v4h-4zM748 396h60v4h-60zM928 396h4v4h-4zM748 400h56v4h-56zM928 400h4v4h-4zM928 404h4v1h-4z"/>
<path fill="#4a2000" d="M948 312h4v4h-4zM948 316h4v4h-4zM948 320h4v4h-4zM948 324h4v4h-4zM948 328h4v4h-4zM408 340h4v4h-4zM932 340h4v4h-4zM444 348h4v4h-4zM740 352h4v4h-4zM388 356h8v4h-8zM348 360h8v4h-8zM944 372h4v4h-4zM944 376h4v4h-4zM812 388h4v4h-4zM804 400h4v4h-4zM748 404h56v1h-56z"/>
<path fill="#4a2400" d="M412 324h4v4h-4zM428 332h4v4h-4zM932 332h4v4h-4zM948 332h4v4h-4zM552 336h4v4h-4zM932 336h4v4h-4zM948 336h4v4h-4zM432 340h4v4h-4zM948 340h4v4h-4zM436 344h4v4h-4zM948 344h4v4h-4zM448 352h28v4h-28zM356 360h20v4h-20zM328 364h12v4h-12zM928 364h4v4h-4zM928 368h4v4h-4zM820 376h4v4h-4zM944 380h4v4h-4zM816 384h4v4h-4zM944 384h4v4h-4zM944 388h4v4h-4zM944 392h4v4h-4zM808 396h4v4h-4zM944 396h4v4h-4zM944 400h4v4h-4zM804 404h4v1h-4zM944 404h4v1h-4z"/>
<path fill="#4c2400" d="M832 312h4v4h-4zM952 312h1v4h-1zM832 316h4v4h-4zM932 316h4v4h-4zM952 316h1v4h-1zM932 320h4v4h-4zM952 320h1v4h-1zM932 324h4v4h-4zM952 324h1v4h-1zM412 328h4v4h-4zM932 328h4v4h-4zM952 328h1v4h-1zM412 332h4v4h-4zM952 332h1v4h-1zM428 336h4v4h-4zM952 336h1v4h-1zM828 340h4v4h-4zM408 344h4v4h-4zM404 348h4v4h-4zM440 348h4v4h-4zM548 348h4v4h-4zM948 348h4v4h-4zM400 352h4v4h-4zM444 352h4v4h-4zM476 352h64v4h-64zM948 352h4v4h-4zM396 356h4v4h-4zM740 356h4v4h-4zM928 356h4v4h-4zM948 356h4v4h-4zM376 360h20v4h-20zM928 360h4v4h-4zM948 360h4v4h-4zM340 364h28v4h-28zM824 364h4v4h-4zM328 368h12v4h-12zM924 376h4v4h-4zM744 380h4v4h-4zM820 380h4v4h-4zM924 380h4v4h-4zM924 384h4v4h-4zM924 388h4v4h-4zM812 392h4v4h-4zM920 392h8v4h-8zM920 396h8v4h-8zM808 400h4v4h-4zM920 400h8v4h-8zM808 404h4v1h-4zM920 404h8v1h-8z"/>
<path fill="#4e2400" d="M932 312h4v4h-4zM428 340h4v4h-4zM552 340h4v4h-4zM952 340h1v4h-1zM432 344h4v4h-4zM952 344h1v4h-1zM436 348h4v4h-4zM540 352h4v4h-4zM928 352h4v4h-4zM368 364h8v4h-8zM948 364h4v4h-4zM340 368h8v4h-8zM816 388h4v4h-4zM920 388h4v4h-4zM812 396h4v4h-4zM916 396h4v4h-4zM916 400h4v4h-4zM916 404h4v1h-4z"/>
<path fill="#4e2800" d="M424 312h4v4h-4zM556 312h4v4h-4zM736 312h4v4h-4zM556 316h4v4h-4zM736 316h4v4h-4zM556 320h4v4h-4zM736 320h4v4h-4zM832 320h4v4h-4zM556 324h4v4h-4zM736 324h4v4h-4zM412 336h4v4h-4zM828 344h4v4h-4zM408 348h4v4h-4zM928 348h4v4h-4zM952 348h1v4h-1zM404 352h4v4h-4zM440 352h4v4h-4zM544 352h4v4h-4zM952 352h1v4h-1zM400 356h4v4h-4zM448 356h28v4h-28zM396 360h4v4h-4zM376 364h20v4h-20zM348 368h16v4h-16zM824 368h4v4h-4zM948 368h4v4h-4zM328 372h12v4h-12zM924 372h4v4h-4zM948 372h4v4h-4zM948 376h4v4h-4zM744 384h4v4h-4zM920 384h4v4h-4zM916 392h4v4h-4zM812 400h4v4h-4zM912 404h4v1h-4z"/>
<path fill="#502800" d="M424 316h4v4h-4zM832 324h4v4h-4zM556 328h4v4h-4zM736 328h4v4h-4zM412 340h4v4h-4zM928 340h4v4h-4zM412 344h4v4h-4zM428 344h4v4h-4zM552 344h4v4h-4zM928 344h4v4h-4zM432 348h4v4h-4zM408 352h4v4h-4zM436 352h4v4h-4zM404 356h4v4h-4zM444 356h4v4h-4zM476 356h56v4h-56zM952 356h1v4h-1zM400 360h4v4h-4zM740 360h4v4h-4zM952 360h1v4h-1zM396 364h4v4h-4zM924 364h4v4h-4zM952 364h1v4h-1zM364 368h24v4h-24zM924 368h4v4h-4zM340 372h20v4h-20zM328 376h12v4h-12zM920 376h4v4h-4zM920 380h4v4h-4zM948 380h4v4h-4zM820 384h4v4h-4zM948 384h4v4h-4zM916 388h4v4h-4zM948 388h4v4h-4zM816 392h4v4h-4zM948 392h4v4h-4zM912 396h4v4h-4zM948 396h4v4h-4zM912 400h4v4h-4zM948 400h4v4h-4zM812 404h4v1h-4zM948 404h4v1h-4z"/>
<path fill="#522800" d="M556 332h4v4h-4zM736 332h4v4h-4zM928 336h4v4h-4zM532 356h4v4h-4zM388 368h8v4h-8zM952 368h1v4h-1zM360 372h8v4h-8zM952 372h1v4h-1zM340 376h8v4h-8zM328 380h4v4h-4zM916 384h4v4h-4zM744 388h4v4h-4zM816 396h4v4h-4zM908 404h4v1h-4z"/>
<path fill="#522c00" d="M928 332h4v4h-4zM412 348h4v4h-4zM428 348h4v4h-4zM828 348h4v4h-4zM432 352h4v4h-4zM548 352h4v4h-4zM440 356h4v4h-4zM536 356h8v4h-8zM448 360h24v4h-24zM924 360h4v4h-4zM368 372h16v4h-16zM824 372h4v4h-4zM920 372h4v4h-4zM348 376h12v4h-12zM952 376h1v4h-1zM332 380h12v4h-12zM952 380h1v4h-1zM328 384h4v4h-4zM952 384h1v4h-1zM820 388h4v4h-4zM912 392h4v4h-4zM816 400h4v4h-4zM908 400h4v4h-4zM816 404h4v1h-4z"/>
<path fill="#542c00" d="M416 312h4v4h-4zM836 312h4v4h-4zM928 312h4v4h-4zM928 316h4v4h-4zM424 320h4v4h-4zM928 320h4v4h-4zM928 324h4v4h-4zM832 328h4v4h-4zM928 328h4v4h-4zM556 336h4v4h-4zM736 336h4v4h-4zM552 348h4v4h-4zM412 352h4v4h-4zM428 352h4v4h-4zM924 352h4v4h-4zM408 356h4v4h-4zM436 356h4v4h-4zM544 356h4v4h-4zM924 356h4v4h-4zM404 360h4v4h-4zM444 360h4v4h-4zM472 360h44v4h-44zM400 364h4v4h-4zM740 364h4v4h-4zM396 368h4v4h-4zM920 368h4v4h-4zM384 372h12v4h-12zM360 376h20v4h-20zM824 376h4v4h-4zM916 376h4v4h-4zM344 380h20v4h-20zM916 380h4v4h-4zM332 384h20v4h-20zM328 388h16v4h-16zM912 388h4v4h-4zM952 388h1v4h-1zM328 392h12v4h-12zM744 392h4v4h-4zM820 392h4v4h-4zM952 392h1v4h-1zM328 396h12v4h-12zM908 396h4v4h-4zM952 396h1v4h-1zM328 400h12v4h-12zM952 400h1v4h-1zM328 404h12v1h-12zM904 404h4v1h-4zM952 404h1v1h-1z"/>
<path fill="#562c00" d="M836 316h4v4h-4zM736 340h4v4h-4zM828 352h4v4h-4zM432 356h4v4h-4zM440 360h4v4h-4zM516 360h16v4h-16zM448 364h4v4h-4zM920 364h4v4h-4zM380 376h8v4h-8zM364 380h8v4h-8zM352 384h4v4h-4zM912 384h4v4h-4zM344 388h4v4h-4zM340 392h4v4h-4zM340 396h4v4h-4zM340 400h4v4h-4zM904 400h4v4h-4zM340 404h4v1h-4z"/>
<path fill="#563000" d="M832 332h4v4h-4zM556 340h4v4h-4zM924 348h4v4h-4zM412 356h4v4h-4zM548 356h4v4h-4zM408 360h4v4h-4zM436 360h4v4h-4zM532 360h4v4h-4zM404 364h4v4h-4zM452 364h20v4h-20zM400 368h4v4h-4zM740 368h4v4h-4zM396 372h4v4h-4zM916 372h4v4h-4zM388 376h8v4h-8zM372 380h12v4h-12zM356 384h12v4h-12zM348 388h12v4h-12zM344 392h12v4h-12zM908 392h4v4h-4zM344 396h12v4h-12zM744 396h4v4h-4zM820 396h4v4h-4zM344 400h12v4h-12zM820 400h4v4h-4zM344 404h12v1h-12zM820 404h4v1h-4z"/>
<path fill="#583000" d="M560 312h8v4h-8zM560 316h8v4h-8zM560 320h8v4h-8zM836 320h4v4h-4zM424 324h4v4h-4zM924 340h4v4h-4zM736 344h4v4h-4zM924 344h4v4h-4zM552 352h4v4h-4zM428 356h4v4h-4zM828 356h4v4h-4zM920 356h4v4h-4zM412 360h4v4h-4zM432 360h4v4h-4zM536 360h12v4h-12zM920 360h4v4h-4zM408 364h4v4h-4zM440 364h8v4h-8zM472 364h36v4h-36zM404 368h4v4h-4zM916 368h4v4h-4zM400 372h4v4h-4zM396 376h4v4h-4zM384 380h12v4h-12zM824 380h4v4h-4zM912 380h4v4h-4zM368 384h20v4h-20zM360 388h20v4h-20zM908 388h4v4h-4zM356 392h16v4h-16zM356 396h16v4h-16zM904 396h4v4h-4zM356 400h16v4h-16zM744 400h4v4h-4zM356 404h16v1h-16zM744 404h4v1h-4zM900 404h4v1h-4z"/>
<path fill="#5a3000" d="M568 312h52v4h-52zM568 316h52v4h-52zM568 320h52v4h-52zM560 324h36v4h-36zM832 336h4v4h-4zM556 344h4v4h-4zM508 364h12v4h-12zM448 368h12v4h-12zM388 384h8v4h-8zM380 388h4v4h-4zM372 392h8v4h-8zM372 396h8v4h-8zM372 400h8v4h-8zM372 404h8v1h-8z"/>
<path fill="#5a3400" d="M620 312h84v4h-84zM416 316h4v4h-4zM620 316h84v4h-84zM620 320h84v4h-84zM596 324h80v4h-80zM836 324h4v4h-4zM424 328h4v4h-4zM560 328h56v4h-56zM924 332h4v4h-4zM924 336h4v4h-4zM424 344h4v4h-4zM424 348h4v4h-4zM424 352h4v4h-4zM920 352h4v4h-4zM428 360h4v4h-4zM436 364h4v4h-4zM520 364h12v4h-12zM916 364h4v4h-4zM408 368h4v4h-4zM444 368h4v4h-4zM460 368h16v4h-16zM404 372h4v4h-4zM740 372h4v4h-4zM400 376h4v4h-4zM912 376h4v4h-4zM396 380h4v4h-4zM824 384h4v4h-4zM908 384h4v4h-4zM384 388h12v4h-12zM380 392h12v4h-12zM904 392h4v4h-4zM380 396h12v4h-12zM380 400h12v4h-12zM900 400h4v4h-4zM380 404h12v1h-12z"/>
<path fill="#5c3400" d="M704 312h16v4h-16zM724 312h12v4h-12zM704 316h16v4h-16zM724 316h12v4h-12zM704 320h16v4h-16zM724 320h12v4h-12zM676 324h44v4h-44zM724 324h12v4h-12zM924 324h4v4h-4zM616 328h104v4h-104zM724 328h12v4h-12zM924 328h4v4h-4zM424 332h4v4h-4zM560 332h100v4h-100zM424 336h4v4h-4zM424 340h4v4h-4zM832 340h4v4h-4zM556 348h4v4h-4zM736 348h4v4h-4zM920 348h4v4h-4zM416 356h4v4h-4zM424 356h4v4h-4zM552 356h4v4h-4zM424 360h4v4h-4zM548 360h4v4h-4zM828 360h4v4h-4zM916 360h4v4h-4zM412 364h4v4h-4zM432 364h4v4h-4zM532 364h8v4h-8zM436 368h8v4h-8zM476 368h28v4h-28zM448 372h12v4h-12zM912 372h4v4h-4zM404 376h4v4h-4zM400 380h4v4h-4zM396 384h4v4h-4zM396 388h4v4h-4zM824 388h4v4h-4zM392 392h4v4h-4zM392 396h4v4h-4zM900 396h4v4h-4zM392 400h4v4h-4zM392 404h4v1h-4zM896 404h4v1h-4z"/>
<path fill="#5e3400" d="M420 312h4v4h-4zM924 312h4v4h-4zM924 316h4v4h-4zM924 320h4v4h-4zM836 328h4v4h-4zM660 332h48v4h-48zM560 336h40v4h-40zM416 360h4v4h-4zM428 364h4v4h-4zM540 364h4v4h-4zM412 368h4v4h-4zM504 368h12v4h-12zM408 372h4v4h-4zM444 372h4v4h-4zM460 372h8v4h-8zM740 376h4v4h-4zM908 380h4v4h-4zM400 384h4v4h-4zM904 388h4v4h-4zM396 392h4v4h-4zM824 392h4v4h-4zM396 396h4v4h-4zM396 400h4v4h-4zM396 404h4v1h-4zM824 404h4v1h-4z"/>
<path fill="#5e3800" d="M708 332h12v4h-12zM724 332h12v4h-12zM600 336h72v4h-72zM920 344h4v4h-4zM416 352h4v4h-4zM736 352h4v4h-4zM916 356h4v4h-4zM416 364h4v4h-4zM424 364h4v4h-4zM544 364h4v4h-4zM432 368h4v4h-4zM516 368h16v4h-16zM912 368h4v4h-4zM440 372h4v4h-4zM468 372h12v4h-12zM404 380h4v4h-4zM400 388h4v4h-4zM824 396h4v4h-4zM824 400h4v4h-4zM896 400h4v4h-4z"/>
<path fill="#603800" d="M672 336h48v4h-48zM724 336h12v4h-12zM920 336h4v4h-4zM560 340h108v4h-108zM920 340h4v4h-4zM832 344h4v4h-4zM556 352h4v4h-4zM420 360h4v4h-4zM548 364h4v4h-4zM828 364h4v4h-4zM416 368h4v4h-4zM428 368h4v4h-4zM532 368h8v4h-8zM412 372h4v4h-4zM432 372h8v4h-8zM480 372h24v4h-24zM408 376h4v4h-4zM444 376h24v4h-24zM908 376h4v4h-4zM408 380h4v4h-4zM740 380h4v4h-4zM404 384h4v4h-4zM904 384h4v4h-4zM400 392h4v4h-4zM900 392h4v4h-4zM400 396h4v4h-4zM400 400h4v4h-4zM400 404h4v1h-4z"/>
<path fill="#623800" d="M836 332h4v4h-4zM668 340h48v4h-48zM560 344h24v4h-24zM416 348h4v4h-4zM916 352h4v4h-4zM736 356h4v4h-4zM552 360h4v4h-4zM420 364h4v4h-4zM912 364h4v4h-4zM424 368h4v4h-4zM504 372h12v4h-12zM412 376h4v4h-4zM440 376h4v4h-4zM468 376h8v4h-8zM448 380h4v4h-4zM404 388h4v4h-4zM404 392h4v4h-4zM404 396h4v4h-4zM404 400h4v4h-4zM404 404h4v1h-4z"/>
<path fill="#623c00" d="M848 312h4v4h-4zM416 320h4v4h-4zM920 332h4v4h-4zM716 340h4v4h-4zM724 340h12v4h-12zM584 344h64v4h-64zM420 356h4v4h-4zM420 368h4v4h-4zM540 368h8v4h-8zM828 368h4v4h-4zM416 372h4v4h-4zM428 372h4v4h-4zM516 372h12v4h-12zM908 372h4v4h-4zM436 376h4v4h-4zM476 376h12v4h-12zM444 380h4v4h-4zM452 380h12v4h-12zM408 384h4v4h-4zM740 384h4v4h-4zM896 396h4v4h-4zM892 404h4v1h-4z"/>
<path fill="#643c00" d="M920 312h4v4h-4zM920 316h4v4h-4zM920 320h4v4h-4zM920 324h4v4h-4zM920 328h4v4h-4zM836 336h4v4h-4zM648 344h72v4h-72zM724 344h12v4h-12zM916 344h4v4h-4zM560 348h60v4h-60zM832 348h4v4h-4zM916 348h4v4h-4zM556 356h4v4h-4zM736 360h4v4h-4zM912 360h4v4h-4zM420 372h8v4h-8zM528 372h8v4h-8zM416 376h4v4h-4zM428 376h8v4h-8zM488 376h20v4h-20zM412 380h4v4h-4zM436 380h8v4h-8zM464 380h16v4h-16zM904 380h4v4h-4zM412 384h4v4h-4zM444 384h20v4h-20zM408 388h4v4h-4zM448 388h4v4h-4zM740 388h4v4h-4zM900 388h4v4h-4zM408 392h4v4h-4zM408 396h4v4h-4zM408 400h4v4h-4zM892 400h4v4h-4zM408 404h4v1h-4z"/>
<path fill="#663c00" d="M620 348h44v4h-44zM420 352h4v4h-4zM552 364h4v4h-4zM548 368h4v4h-4zM908 368h4v4h-4zM536 372h4v4h-4zM828 372h4v4h-4zM424 376h4v4h-4zM508 376h12v4h-12zM416 380h4v4h-4zM432 380h4v4h-4zM480 380h8v4h-8zM440 384h4v4h-4zM464 384h8v4h-8zM412 388h4v4h-4zM444 388h4v4h-4zM452 388h8v4h-8zM448 392h4v4h-4zM740 392h4v4h-4zM448 396h4v4h-4zM448 400h4v4h-4zM448 404h4v1h-4z"/>
<path fill="#664000" d="M848 316h4v4h-4zM916 340h4v4h-4zM416 344h4v4h-4zM664 348h56v4h-56zM560 352h28v4h-28zM912 356h4v4h-4zM556 360h4v4h-4zM540 372h4v4h-4zM420 376h4v4h-4zM520 376h8v4h-8zM904 376h4v4h-4zM428 380h4v4h-4zM488 380h12v4h-12zM416 384h4v4h-4zM432 384h8v4h-8zM472 384h8v4h-8zM900 384h4v4h-4zM440 388h4v4h-4zM460 388h8v4h-8zM412 392h4v4h-4zM440 392h8v4h-8zM452 392h8v4h-8zM896 392h4v4h-4zM412 396h4v4h-4zM444 396h4v4h-4zM452 396h8v4h-8zM740 396h4v4h-4zM412 400h4v4h-4zM444 400h4v4h-4zM452 400h8v4h-8zM740 400h4v4h-4zM412 404h4v1h-4zM444 404h4v1h-4zM452 404h8v1h-8zM740 404h4v1h-4z"/>
<path fill="#684000" d="M852 312h4v4h-4zM420 316h4v4h-4zM916 336h4v4h-4zM836 340h4v4h-4zM724 348h12v4h-12zM588 352h96v4h-96zM832 352h4v4h-4zM912 352h4v4h-4zM736 364h4v4h-4zM908 364h4v4h-4zM544 372h4v4h-4zM528 376h8v4h-8zM828 376h4v4h-4zM420 380h8v4h-8zM500 380h16v4h-16zM424 384h8v4h-8zM480 384h16v4h-16zM416 388h4v4h-4zM428 388h12v4h-12zM468 388h16v4h-16zM416 392h4v4h-4zM432 392h8v4h-8zM460 392h16v4h-16zM416 396h4v4h-4zM432 396h12v4h-12zM460 396h16v4h-16zM892 396h4v4h-4zM416 400h4v4h-4zM432 400h12v4h-12zM460 400h16v4h-16zM416 404h4v1h-4zM432 404h12v1h-12zM460 404h16v1h-16zM888 404h4v1h-4z"/>
<path fill="#6a4000" d="M916 332h4v4h-4zM684 352h36v4h-36zM724 352h4v4h-4zM560 356h40v4h-40zM552 368h4v4h-4zM548 372h4v4h-4zM536 376h4v4h-4zM516 380h12v4h-12zM828 380h4v4h-4zM420 384h4v4h-4zM496 384h8v4h-8zM424 388h4v4h-4zM484 388h8v4h-8zM428 392h4v4h-4zM476 392h8v4h-8zM428 396h4v4h-4zM476 396h8v4h-8zM428 400h4v4h-4zM476 400h8v4h-8zM428 404h4v1h-4zM476 404h8v1h-8zM828 404h4v1h-4z"/>
<path fill="#6a4400" d="M916 312h4v4h-4zM848 320h4v4h-4zM416 324h4v4h-4zM916 328h4v4h-4zM728 352h8v4h-8zM600 356h48v4h-48zM556 364h4v4h-4zM736 368h4v4h-4zM904 372h4v4h-4zM540 376h4v4h-4zM528 380h4v4h-4zM900 380h4v4h-4zM504 384h8v4h-8zM828 384h4v4h-4zM420 388h4v4h-4zM492 388h8v4h-8zM896 388h4v4h-4zM420 392h8v4h-8zM484 392h8v4h-8zM420 396h8v4h-8zM484 396h8v4h-8zM420 400h8v4h-8zM484 400h8v4h-8zM828 400h4v4h-4zM888 400h4v4h-4zM420 404h8v1h-8zM484 404h8v1h-8z"/>
<path fill="#6c4400" d="M916 316h4v4h-4zM916 320h4v4h-4zM916 324h4v4h-4zM416 340h4v4h-4zM836 344h4v4h-4zM420 348h4v4h-4zM912 348h4v4h-4zM648 356h72v4h-72zM724 356h12v4h-12zM832 356h4v4h-4zM560 360h56v4h-56zM908 360h4v4h-4zM736 372h4v4h-4zM544 376h4v4h-4zM532 380h8v4h-8zM512 384h20v4h-20zM500 388h16v4h-16zM828 388h4v4h-4zM492 392h16v4h-16zM828 392h4v4h-4zM892 392h4v4h-4zM492 396h16v4h-16zM828 396h4v4h-4zM492 400h16v4h-16zM492 404h16v1h-16z"/>
<path fill="#6e4400" d="M852 316h4v4h-4zM912 344h4v4h-4zM616 360h40v4h-40zM556 368h4v4h-4zM904 368h4v4h-4zM552 372h4v4h-4zM548 376h4v4h-4zM516 388h8v4h-8zM508 392h8v4h-8zM508 396h8v4h-8zM508 400h8v4h-8zM508 404h8v1h-8zM884 404h4v1h-4z"/>
<path fill="#6e4800" d="M908 356h4v4h-4zM656 360h48v4h-48zM832 360h4v4h-4zM560 364h28v4h-28zM736 376h4v4h-4zM900 376h4v4h-4zM540 380h4v4h-4zM532 384h4v4h-4zM896 384h4v4h-4zM524 388h8v4h-8zM516 392h8v4h-8zM516 396h8v4h-8zM888 396h4v4h-4zM516 400h8v4h-8zM516 404h8v1h-8z"/>
<path fill="#704800" d="M856 312h4v4h-4zM848 324h4v4h-4zM416 328h4v4h-4zM416 336h4v4h-4zM912 336h4v4h-4zM912 340h4v4h-4zM836 348h4v4h-4zM704 360h16v4h-16zM724 360h12v4h-12zM588 364h84v4h-84zM560 368h8v4h-8zM556 372h4v4h-4zM552 376h4v4h-4zM544 380h8v4h-8zM736 380h4v4h-4zM536 384h8v4h-8zM532 388h4v4h-4zM524 392h8v4h-8zM524 396h8v4h-8zM524 400h8v4h-8zM884 400h4v4h-4zM524 404h8v1h-8z"/>
<path fill="#724800" d="M912 312h4v4h-4zM912 316h4v4h-4zM852 320h4v4h-4zM912 328h4v4h-4zM416 332h4v4h-4zM912 332h4v4h-4zM908 352h4v4h-4zM672 364h48v4h-48zM724 364h12v4h-12zM832 364h4v4h-4zM904 364h4v4h-4zM568 368h80v4h-80zM900 372h4v4h-4zM896 380h4v4h-4zM544 384h4v4h-4zM736 384h4v4h-4zM536 388h8v4h-8zM892 388h4v4h-4zM532 392h8v4h-8zM532 396h8v4h-8zM532 400h8v4h-8zM532 404h8v1h-8z"/>
<path fill="#744800" d="M420 320h4v4h-4zM912 320h4v4h-4zM912 324h4v4h-4zM848 328h4v4h-4zM908 348h4v4h-4zM836 352h4v4h-4zM904 360h4v4h-4zM648 368h72v4h-72zM724 368h4v4h-4zM832 368h4v4h-4zM560 372h72v4h-72zM556 376h4v4h-4zM552 380h4v4h-4zM548 384h4v4h-4zM544 388h4v4h-4zM736 388h4v4h-4zM540 392h4v4h-4zM736 392h4v4h-4zM888 392h4v4h-4zM540 396h4v4h-4zM736 396h4v4h-4zM540 400h4v4h-4zM736 400h4v4h-4zM540 404h4v1h-4zM736 404h4v1h-4zM832 404h4v1h-4zM880 404h4v1h-4z"/>
<path fill="#764800" d="M856 316h4v4h-4zM420 344h4v4h-4zM908 344h4v4h-4zM728 368h8v4h-8zM900 368h4v4h-4zM632 372h76v4h-76zM832 372h4v4h-4zM560 376h68v4h-68zM556 380h4v4h-4zM552 384h4v4h-4zM892 384h4v4h-4zM548 388h4v4h-4zM544 392h8v4h-8zM544 396h8v4h-8zM884 396h4v4h-4zM544 400h8v4h-8zM832 400h4v4h-4zM880 400h4v4h-4zM544 404h8v1h-8z"/>
<path fill="#784800" d="M860 312h4v4h-4zM852 324h4v4h-4zM908 340h4v4h-4zM836 356h4v4h-4zM904 356h4v4h-4zM708 372h12v4h-12zM724 372h12v4h-12zM628 376h72v4h-72zM832 376h4v4h-4zM896 376h4v4h-4zM560 380h72v4h-72zM832 380h4v4h-4zM556 384h24v4h-24zM552 388h8v4h-8zM552 392h4v4h-4zM832 392h4v4h-4zM552 396h4v4h-4zM832 396h4v4h-4zM552 400h4v4h-4zM552 404h4v1h-4zM876 404h4v1h-4z"/>
<path fill="#7a4800" d="M908 312h4v4h-4zM908 316h4v4h-4zM856 320h4v4h-4zM848 332h4v4h-4zM908 336h4v4h-4zM836 360h4v4h-4zM900 364h4v4h-4zM700 376h20v4h-20zM724 376h12v4h-12zM632 380h72v4h-72zM580 384h72v4h-72zM832 384h4v4h-4zM560 388h56v4h-56zM832 388h4v4h-4zM888 388h4v4h-4zM556 392h44v4h-44zM556 396h40v4h-40zM556 400h40v4h-40zM556 404h40v1h-40z"/>
<path fill="#7c4800" d="M908 320h4v4h-4zM908 324h4v4h-4zM852 328h4v4h-4zM908 328h4v4h-4zM908 332h4v4h-4zM904 352h4v4h-4zM896 372h4v4h-4zM704 380h16v4h-16zM724 380h12v4h-12zM892 380h4v4h-4zM652 384h68v4h-68zM616 388h72v4h-72zM600 392h68v4h-68zM884 392h4v4h-4zM596 396h72v4h-72zM880 396h4v4h-4zM596 400h72v4h-72zM876 400h4v4h-4zM596 404h72v1h-72zM836 404h4v1h-4z"/>
<path fill="#7e4800" d="M864 312h4v4h-4zM860 316h4v4h-4zM848 336h4v4h-4zM904 348h4v4h-4zM900 360h4v4h-4zM836 364h4v4h-4zM724 384h12v4h-12zM888 384h4v4h-4zM688 388h32v4h-32zM724 388h12v4h-12zM668 392h52v4h-52zM724 392h12v4h-12zM668 396h52v4h-52zM724 396h12v4h-12zM668 400h52v4h-52zM724 400h12v4h-12zM836 400h4v4h-4zM668 404h52v1h-52zM724 404h12v1h-12zM872 404h4v1h-4z"/>
<path fill="#804400" d="M904 312h4v4h-4zM856 324h4v4h-4zM904 344h4v4h-4zM836 368h4v4h-4zM896 368h4v4h-4zM892 376h4v4h-4zM836 396h4v4h-4z"/>
<path fill="#804800" d="M420 324h4v4h-4zM420 340h4v4h-4z"/>
<path fill="#824400" d="M904 316h4v4h-4zM852 332h4v4h-4zM904 340h4v4h-4zM900 356h4v4h-4zM836 372h4v4h-4zM884 388h4v4h-4zM836 392h4v4h-4zM880 392h4v4h-4zM876 396h4v4h-4zM872 400h4v4h-4zM868 404h4v1h-4z"/>
<path fill="#844000" d="M904 328h4v4h-4z"/>
<path fill="#844400" d="M844 312h4v4h-4zM864 316h4v4h-4zM860 320h4v4h-4zM904 320h4v4h-4zM904 324h4v4h-4zM904 332h4v4h-4zM904 336h4v4h-4zM848 340h4v4h-4zM836 376h4v4h-4zM836 380h4v4h-4zM888 380h4v4h-4zM836 384h4v4h-4zM836 388h4v4h-4z"/>
<path fill="#864000" d="M868 312h4v4h-4zM856 328h4v4h-4zM900 352h4v4h-4zM896 364h4v4h-4zM892 372h4v4h-4zM868 400h4v4h-4zM848 404h4v1h-4zM864 404h4v1h-4z"/>
<path fill="#884000" d="M900 312h4v4h-4zM844 316h4v4h-4zM420 328h4v4h-4zM420 336h4v4h-4zM852 336h4v4h-4zM848 344h4v4h-4zM900 348h4v4h-4zM884 384h4v4h-4zM880 388h4v4h-4zM872 396h4v4h-4zM852 404h12v1h-12z"/>
<path fill="#8a3c00" d="M420 332h4v4h-4zM900 344h4v4h-4zM892 368h4v4h-4zM888 376h4v4h-4z"/>
<path fill="#8a4000" d="M900 316h4v4h-4zM860 324h4v4h-4zM896 360h4v4h-4zM876 392h4v4h-4zM848 400h4v4h-4zM864 400h4v4h-4z"/>
<path fill="#8c3c00" d="M872 312h4v4h-4zM896 312h4v4h-4zM868 316h4v4h-4zM844 320h4v4h-4zM864 320h4v4h-4zM900 320h4v4h-4zM856 332h4v4h-4zM852 340h4v4h-4zM900 340h4v4h-4zM848 348h4v4h-4zM896 356h4v4h-4zM868 396h4v4h-4zM852 400h12v4h-12z"/>
<path fill="#8e3800" d="M872 392h4v4h-4z"/>
<path fill="#8e3c00" d="M900 324h4v4h-4zM900 328h4v4h-4zM900 332h4v4h-4zM900 336h4v4h-4zM884 380h4v4h-4zM848 396h4v4h-4z"/>
<path fill="#903800" d="M876 312h4v4h-4zM892 312h4v4h-4zM896 316h4v4h-4zM844 324h4v4h-4zM860 328h4v4h-4zM848 352h4v4h-4zM896 352h4v4h-4zM892 364h4v4h-4zM888 372h4v4h-4zM880 384h4v4h-4zM876 388h4v4h-4zM852 396h4v4h-4zM864 396h4v4h-4z"/>
<path fill="#923800" d="M880 312h4v4h-4zM872 316h4v4h-4zM868 320h4v4h-4zM896 320h4v4h-4zM864 324h4v4h-4zM856 336h4v4h-4zM852 344h4v4h-4zM884 376h4v4h-4zM848 392h4v4h-4zM856 396h8v4h-8z"/>
<path fill="#943400" d="M884 312h4v4h-4zM892 316h4v4h-4zM888 368h4v4h-4zM848 388h4v4h-4zM852 392h4v4h-4z"/>
<path fill="#943800" d="M888 312h4v4h-4zM844 328h4v4h-4zM896 348h4v4h-4zM848 356h4v4h-4zM892 360h4v4h-4zM868 392h4v4h-4z"/>
<path fill="#963400" d="M876 316h4v4h-4zM896 324h4v4h-4zM896 328h4v4h-4zM860 332h4v4h-4zM856 340h4v4h-4zM896 340h4v4h-4zM896 344h4v4h-4zM852 348h4v4h-4zM848 360h4v4h-4zM880 380h4v4h-4zM876 384h4v4h-4zM872 388h4v4h-4zM856 392h4v4h-4zM864 392h4v4h-4z"/>
<path fill="#983400" d="M840 312h4v4h-4zM880 316h4v4h-4zM888 316h4v4h-4zM872 320h4v4h-4zM892 320h4v4h-4zM868 324h4v4h-4zM864 328h4v4h-4zM844 332h4v4h-4zM896 332h4v4h-4zM896 336h4v4h-4zM892 356h4v4h-4zM848 364h4v4h-4zM884 372h4v4h-4zM848 384h4v4h-4zM852 388h4v4h-4zM860 392h4v4h-4z"/>
<path fill="#9a3000" d="M884 316h4v4h-4zM860 336h4v4h-4zM852 352h4v4h-4zM892 352h4v4h-4zM888 364h4v4h-4zM848 368h4v4h-4zM848 372h4v4h-4zM848 376h4v4h-4zM848 380h4v4h-4zM868 388h4v4h-4z"/>
<path fill="#9c3000" d="M840 316h4v4h-4zM876 320h4v4h-4zM888 320h4v4h-4zM892 324h4v4h-4zM844 336h4v4h-4zM856 344h4v4h-4zM880 376h4v4h-4zM876 380h4v4h-4zM852 384h4v4h-4zM872 384h4v4h-4zM856 388h12v4h-12z"/>
<path fill="#9e2c00" d="M840 320h4v4h-4zM880 320h8v4h-8zM872 324h4v4h-4zM868 328h4v4h-4zM844 340h4v4h-4zM892 344h4v4h-4zM852 380h4v4h-4z"/>
<path fill="#9e3000" d="M892 328h4v4h-4zM864 332h4v4h-4zM892 348h4v4h-4zM852 356h4v4h-4zM888 360h4v4h-4zM884 368h4v4h-4z"/>
<path fill="#a02c00" d="M888 324h4v4h-4zM892 332h4v4h-4zM892 336h4v4h-4zM860 340h4v4h-4zM892 340h4v4h-4zM856 348h4v4h-4zM852 360h4v4h-4zM880 372h4v4h-4zM852 376h4v4h-4zM856 384h4v4h-4zM868 384h4v4h-4zM844 404h4v1h-4z"/>
<path fill="#a22c00" d="M840 324h4v4h-4zM876 324h4v4h-4zM864 336h4v4h-4zM844 344h4v4h-4zM888 356h4v4h-4zM852 364h4v4h-4zM884 364h4v4h-4zM852 368h4v4h-4zM852 372h4v4h-4zM876 376h4v4h-4zM872 380h4v4h-4zM860 384h8v4h-8zM844 400h4v4h-4z"/>
<path fill="#a42800" d="M880 324h8v4h-8zM840 328h4v4h-4zM872 328h4v4h-4zM888 328h4v4h-4zM868 332h4v4h-4zM860 344h4v4h-4zM856 352h4v4h-4zM888 352h4v4h-4zM856 380h4v4h-4z"/>
<path fill="#a62800" d="M720 312h4v4h-4zM720 316h4v4h-4zM720 320h4v4h-4zM720 324h4v4h-4zM720 328h4v4h-4zM720 332h4v4h-4zM888 332h4v4h-4zM720 336h4v4h-4zM720 340h4v4h-4zM720 344h4v4h-4zM720 348h4v4h-4zM844 348h4v4h-4zM888 348h4v4h-4zM720 352h4v4h-4zM720 356h4v4h-4zM856 356h4v4h-4zM720 360h4v4h-4zM884 360h4v4h-4zM720 364h4v4h-4zM720 368h4v4h-4zM880 368h4v4h-4zM720 372h4v4h-4zM720 376h4v4h-4zM856 376h4v4h-4zM720 380h4v4h-4zM860 380h12v4h-12zM720 384h4v4h-4zM720 388h4v4h-4zM720 392h4v4h-4zM720 396h4v4h-4zM844 396h4v4h-4zM720 400h4v4h-4zM720 404h4v1h-4z"/>
<path fill="#a82400" d="M880 328h4v4h-4zM860 348h4v4h-4zM856 364h4v4h-4zM856 368h4v4h-4zM844 392h4v4h-4z"/>
<path fill="#a82800" d="M876 328h4v4h-4zM884 328h4v4h-4zM840 332h4v4h-4zM888 336h4v4h-4zM864 340h4v4h-4zM888 340h4v4h-4zM888 344h4v4h-4zM856 360h4v4h-4zM856 372h4v4h-4zM876 372h4v4h-4zM872 376h4v4h-4z"/>
<path fill="#aa2400" d="M872 332h4v4h-4zM884 332h4v4h-4zM868 336h4v4h-4zM844 352h4v4h-4zM884 356h4v4h-4zM880 364h4v4h-4zM860 376h4v4h-4zM868 376h4v4h-4z"/>
<path fill="#ac2400" d="M876 332h8v4h-8zM840 336h4v4h-4zM884 336h4v4h-4zM864 344h4v4h-4zM860 352h4v4h-4zM884 352h4v4h-4zM844 356h4v4h-4zM876 368h4v4h-4zM860 372h4v4h-4zM872 372h4v4h-4zM864 376h4v4h-4zM844 388h4v4h-4z"/>
<path fill="#ae2000" d="M872 336h4v4h-4zM840 340h4v4h-4zM868 340h4v4h-4zM884 340h4v4h-4zM884 344h4v4h-4zM884 348h4v4h-4zM860 356h4v4h-4zM844 360h4v4h-4zM860 360h4v4h-4zM880 360h4v4h-4zM860 364h4v4h-4zM860 368h4v4h-4zM864 372h8v4h-8zM844 380h4v4h-4zM844 384h4v4h-4z"/>
<path fill="#b02000" d="M876 336h8v4h-8zM864 348h4v4h-4zM880 356h4v4h-4zM844 364h4v4h-4zM876 364h4v4h-4zM844 368h4v4h-4zM872 368h4v4h-4zM844 372h4v4h-4zM844 376h4v4h-4z"/>
<path fill="#b22000" d="M872 340h4v4h-4zM880 340h4v4h-4zM840 344h4v4h-4zM868 344h4v4h-4zM880 344h4v4h-4zM864 352h4v4h-4zM880 352h4v4h-4zM876 360h4v4h-4zM864 364h4v4h-4zM864 368h8v4h-8z"/>
<path fill="#b42000" d="M876 340h4v4h-4zM872 344h4v4h-4zM868 348h4v4h-4zM880 348h4v4h-4zM864 356h4v4h-4zM864 360h4v4h-4zM868 364h8v4h-8zM840 404h4v1h-4z"/>
<path fill="#b62000" d="M876 344h4v4h-4zM840 348h4v4h-4zM872 348h8v4h-8zM868 352h4v4h-4zM876 352h4v4h-4zM868 356h4v4h-4zM876 356h4v4h-4zM868 360h8v4h-8zM840 400h4v4h-4z"/>
<path fill="#b82000" d="M840 352h4v4h-4zM872 352h4v4h-4zM872 356h4v4h-4zM840 396h4v4h-4z"/>
<path fill="#ba2000" d="M840 356h4v4h-4z"/>
<path fill="#bc2000" d="M840 360h4v4h-4zM840 392h4v4h-4z"/>
<path fill="#be2000" d="M840 364h4v4h-4zM840 384h4v4h-4zM840 388h4v4h-4z"/>
<path fill="#c02000" d="M840 368h4v4h-4zM840 372h4v4h-4zM840 376h4v4h-4zM840 380h4v4h-4z"/>
</g>
<rect x="328" y="306" width="625" height="6" fill="#fff"/>
<g filter="url(#fl)">
<rect x="328" y="429" width="625" height="75" fill="#888000"/>
<path fill="#401000" d="M942 435h11v10h-11z"/>
<path fill="#421000" d="M946 429h7v6h-7zM934 435h8v10h-8z"/>
<path fill="#441000" d="M942 429h4v6h-4zM930 435h4v10h-4z"/>
<path fill="#461000" d="M938 429h4v6h-4zM924 435h6v10h-6z"/>
<path fill="#481000" d="M936 429h2v6h-2zM920 435h4v10h-4z"/>
<path fill="#4a1000" d="M932 429h4v6h-4zM916 435h4v10h-4z"/>
<path fill="#4c1000" d="M930 429h2v6h-2zM910 435h6v10h-6z"/>
<path fill="#4e1000" d="M928 429h2v6h-2zM906 435h4v10h-4z"/>
<path fill="#501000" d="M926 429h2v6h-2zM900 435h6v10h-6z"/>
<path fill="#521000" d="M924 429h2v6h-2zM892 435h8v10h-8zM944 475h9v11h-9z"/>
<path fill="#541000" d="M922 429h2v6h-2zM884 435h8v10h-8zM940 475h4v11h-4z"/>
<path fill="#541800" d="M328 429h96v6h-96z"/>
<path fill="#561000" d="M920 429h2v6h-2zM936 475h4v11h-4z"/>
<path fill="#581000" d="M918 429h2v6h-2zM950 465h3v10h-3zM932 475h4v11h-4z"/>
<path fill="#5a1000" d="M914 429h4v6h-4zM940 465h10v10h-10zM930 475h2v11h-2z"/>
<path fill="#5c1000" d="M912 429h2v6h-2zM928 445h25v10h-25zM934 465h6v10h-6zM926 475h4v11h-4z"/>
<path fill="#5c1800" d="M328 435h96v10h-96z"/>
<path fill="#5e1000" d="M910 429h2v6h-2zM910 445h18v10h-18zM930 465h4v10h-4zM924 475h2v11h-2z"/>
<path fill="#601000" d="M908 429h2v6h-2zM884 445h26v10h-26zM926 465h4v10h-4zM922 475h2v11h-2z"/>
<path fill="#621000" d="M906 429h2v6h-2zM922 465h4v10h-4zM918 475h4v11h-4z"/>
<path fill="#641000" d="M904 429h2v6h-2zM918 465h4v10h-4zM916 475h2v11h-2z"/>
<path fill="#661000" d="M900 429h4v6h-4zM914 465h4v10h-4zM914 475h2v11h-2z"/>
<path fill="#681000" d="M898 429h2v6h-2zM908 465h6v10h-6zM910 475h4v11h-4z"/>
<path fill="#6a1000" d="M894 429h4v6h-4zM904 465h4v10h-4zM908 475h2v11h-2z"/>
<path fill="#6a3800" d="M738 429h98v6h-98zM854 429h30v6h-30z"/>
<path fill="#6c1000" d="M886 429h8v6h-8zM898 465h6v10h-6zM904 475h4v11h-4z"/>
<path fill="#6c3800" d="M734 429h4v6h-4zM836 429h2v6h-2zM852 429h2v6h-2z"/>
<path fill="#6e1000" d="M884 429h2v6h-2zM892 465h6v10h-6zM902 475h2v11h-2z"/>
<path fill="#6e3800" d="M732 429h2v6h-2zM838 429h2v6h-2zM850 429h2v6h-2z"/>
<path fill="#701000" d="M930 455h23v10h-23zM884 465h8v10h-8zM898 475h4v11h-4z"/>
<path fill="#703800" d="M532 429h16v6h-16zM730 429h2v6h-2z"/>
<path fill="#721000" d="M912 455h18v10h-18zM894 475h4v11h-4z"/>
<path fill="#723800" d="M528 429h4v6h-4zM548 429h4v6h-4z"/>
<path fill="#741000" d="M884 455h28v10h-28zM884 475h10v11h-10z"/>
<path fill="#743800" d="M524 429h4v6h-4zM552 429h4v6h-4zM728 429h2v6h-2z"/>
<path fill="#763800" d="M492 429h8v6h-8zM520 429h4v6h-4zM556 429h4v6h-4z"/>
<path fill="#783800" d="M424 429h68v6h-68zM516 429h4v6h-4zM560 429h4v6h-4zM736 435h102v10h-102zM858 435h26v10h-26z"/>
<path fill="#7a3800" d="M510 429h6v6h-6zM564 429h6v6h-6zM534 435h12v10h-12zM734 435h2v10h-2zM838 435h2v10h-2zM850 435h2v10h-2z"/>
<path fill="#7c1000" d="M884 486h69v10h-69z"/>
<path fill="#7c1800" d="M328 445h96v10h-96z"/>
<path fill="#7c3800" d="M504 429h6v6h-6zM570 429h6v6h-6zM718 429h4v6h-4zM840 429h2v6h-2zM848 429h2v6h-2zM528 435h6v10h-6zM546 435h6v10h-6zM732 435h2v10h-2z"/>
<path fill="#7e3800" d="M500 429h4v6h-4zM576 429h26v6h-26zM716 429h2v6h-2zM726 429h2v6h-2zM524 435h4v10h-4zM552 435h4v10h-4zM730 435h2v10h-2zM852 435h2v10h-2zM856 435h2v10h-2z"/>
<path fill="#803800" d="M602 429h24v6h-24zM712 429h4v6h-4zM494 435h6v10h-6zM520 435h4v10h-4zM556 435h4v10h-4z"/>
<path fill="#821800" d="M328 455h96v10h-96z"/>
<path fill="#823800" d="M626 429h16v6h-16zM710 429h2v6h-2zM424 435h70v10h-70zM516 435h4v10h-4zM560 435h4v10h-4z"/>
<path fill="#843800" d="M642 429h68v6h-68zM722 429h2v6h-2zM510 435h6v10h-6zM564 435h6v10h-6zM728 435h2v10h-2zM534 445h12v10h-12z"/>
<path fill="#863800" d="M504 435h6v10h-6zM570 435h6v10h-6zM528 445h6v10h-6zM546 445h6v10h-6z"/>
<path fill="#883800" d="M724 429h2v6h-2zM500 435h4v10h-4zM576 435h18v10h-18zM840 435h2v10h-2zM848 435h2v10h-2zM524 445h4v10h-4zM552 445h4v10h-4z"/>
<path fill="#8a3800" d="M594 435h18v10h-18zM496 445h4v10h-4zM520 445h4v10h-4zM556 445h4v10h-4z"/>
<path fill="#8c3800" d="M612 435h4v10h-4zM424 445h72v10h-72zM516 445h4v10h-4zM560 445h4v10h-4z"/>
<path fill="#8e1800" d="M328 465h96v10h-96z"/>
<path fill="#8e3800" d="M616 435h6v10h-6zM512 445h4v10h-4zM564 445h4v10h-4z"/>
<path fill="#903800" d="M622 435h4v10h-4zM718 435h4v10h-4zM726 435h2v10h-2zM506 445h6v10h-6zM568 445h6v10h-6zM738 445h98v10h-98zM854 445h30v10h-30z"/>
<path fill="#923800" d="M626 435h4v10h-4zM500 445h6v10h-6zM574 445h16v10h-16zM732 445h6v10h-6zM836 445h2v10h-2zM852 445h2v10h-2z"/>
<path fill="#941000" d="M926 496h27v8h-27z"/>
<path fill="#943800" d="M630 435h4v10h-4zM716 435h2v10h-2zM590 445h22v10h-22zM730 445h2v10h-2zM838 445h2v10h-2zM850 445h2v10h-2z"/>
<path fill="#961000" d="M908 496h18v8h-18z"/>
<path fill="#963800" d="M842 429h2v6h-2zM846 429h2v6h-2zM634 435h4v10h-4zM714 435h2v10h-2zM722 435h2v10h-2zM612 445h8v10h-8z"/>
<path fill="#981000" d="M884 496h24v8h-24z"/>
<path fill="#981800" d="M328 475h96v11h-96z"/>
<path fill="#983800" d="M638 435h4v10h-4zM712 435h2v10h-2zM620 445h4v10h-4zM728 445h2v10h-2z"/>
<path fill="#9a3800" d="M642 435h4v10h-4zM710 435h2v10h-2zM724 435h2v10h-2zM624 445h6v10h-6zM424 455h76v10h-76z"/>
<path fill="#9c3800" d="M646 435h8v10h-8zM708 435h2v10h-2zM630 445h6v10h-6zM718 445h2v10h-2z"/>
<path fill="#9e3800" d="M654 435h54v10h-54zM636 445h6v10h-6zM716 445h2v10h-2zM720 445h2v10h-2zM734 455h104v10h-104zM852 455h32v10h-32z"/>
<path fill="#a03800" d="M642 445h6v10h-6zM712 445h4v10h-4zM732 455h2v10h-2zM838 455h2v10h-2zM850 455h2v10h-2z"/>
<path fill="#a21800" d="M328 486h96v10h-96z"/>
<path fill="#a23800" d="M648 445h64v10h-64zM726 445h2v10h-2zM840 445h2v10h-2zM848 445h2v10h-2zM500 455h106v10h-106zM730 455h2v10h-2zM424 465h76v10h-76z"/>
<path fill="#a43800" d="M842 435h2v10h-2zM846 435h2v10h-2zM606 455h10v10h-10zM728 455h2v10h-2z"/>
<path fill="#a63800" d="M722 445h2v10h-2zM616 455h6v10h-6z"/>
<path fill="#a83800" d="M844 429h2v6h-2zM622 455h4v10h-4z"/>
<path fill="#aa3800" d="M854 435h2v10h-2zM626 455h6v10h-6zM718 455h2v10h-2zM500 465h106v10h-106z"/>
<path fill="#ac1800" d="M328 496h96v8h-96z"/>
<path fill="#ac3800" d="M724 445h2v10h-2zM632 455h6v10h-6zM716 455h2v10h-2zM720 455h2v10h-2zM606 465h8v10h-8z"/>
<path fill="#ae3800" d="M638 455h6v10h-6zM714 455h2v10h-2zM840 455h2v10h-2zM848 455h2v10h-2zM614 465h4v10h-4z"/>
<path fill="#b03800" d="M644 455h8v10h-8zM710 455h4v10h-4zM726 455h2v10h-2zM618 465h4v10h-4zM734 465h106v10h-106zM850 465h34v10h-34z"/>
<path fill="#b23800" d="M652 455h58v10h-58zM622 465h4v10h-4zM730 465h4v10h-4z"/>
<path fill="#b43800" d="M844 435h2v10h-2zM722 455h2v10h-2zM626 465h2v10h-2zM840 465h2v10h-2zM848 465h2v10h-2zM424 475h76v11h-76z"/>
<path fill="#b63800" d="M628 465h4v10h-4zM728 465h2v10h-2z"/>
<path fill="#b83800" d="M632 465h4v10h-4z"/>
<path fill="#ba3800" d="M724 455h2v10h-2zM636 465h4v10h-4z"/>
<path fill="#bc3800" d="M640 465h4v10h-4zM716 465h6v10h-6zM500 475h108v11h-108z"/>
<path fill="#be3800" d="M842 445h2v10h-2zM846 445h2v10h-2zM644 465h4v10h-4zM712 465h4v10h-4zM842 465h2v10h-2zM846 465h2v10h-2zM608 475h4v11h-4z"/>
<path fill="#c03800" d="M648 465h10v10h-10zM706 465h6v10h-6zM612 475h6v11h-6z"/>
<path fill="#c23800" d="M658 465h48v10h-48zM726 465h2v10h-2zM618 475h2v11h-2zM734 475h106v11h-106zM850 475h34v11h-34z"/>
<path fill="#c43800" d="M722 465h2v10h-2zM844 465h2v10h-2zM620 475h4v11h-4zM730 475h4v11h-4z"/>
<path fill="#c63800" d="M624 475h4v11h-4zM840 475h2v11h-2zM848 475h2v11h-2z"/>
<path fill="#c83800" d="M628 475h2v11h-2zM728 475h2v11h-2zM424 486h76v10h-76z"/>
<path fill="#ca3800" d="M842 455h2v10h-2zM846 455h2v10h-2zM724 465h2v10h-2zM630 475h4v11h-4z"/>
<path fill="#cc3800" d="M634 475h2v11h-2z"/>
<path fill="#ce3800" d="M844 445h2v10h-2zM636 475h4v11h-4zM718 475h2v11h-2z"/>
<path fill="#d03800" d="M640 475h4v11h-4zM716 475h2v11h-2zM720 475h2v11h-2zM842 475h2v11h-2zM846 475h2v11h-2zM500 486h106v10h-106z"/>
<path fill="#d23800" d="M644 475h4v11h-4zM712 475h4v11h-4zM606 486h8v10h-8z"/>
<path fill="#d43800" d="M648 475h8v11h-8zM708 475h4v11h-4zM726 475h2v11h-2zM614 486h4v10h-4z"/>
<path fill="#d63800" d="M656 475h52v11h-52zM844 475h2v11h-2zM618 486h6v10h-6zM732 486h108v10h-108zM850 486h34v10h-34z"/>
<path fill="#d83800" d="M722 475h2v11h-2zM624 486h4v10h-4zM730 486h2v10h-2z"/>
<path fill="#da3800" d="M844 455h2v10h-2zM628 486h4v10h-4z"/>
<path fill="#dc3800" d="M632 486h4v10h-4zM728 486h2v10h-2zM840 486h2v10h-2zM848 486h2v10h-2zM424 496h76v8h-76z"/>
<path fill="#de3800" d="M724 475h2v11h-2zM636 486h4v10h-4z"/>
<path fill="#e03800" d="M640 486h4v10h-4zM716 486h6v10h-6z"/>
<path fill="#e23800" d="M644 486h6v10h-6zM712 486h4v10h-4z"/>
<path fill="#e43800" d="M650 486h62v10h-62zM842 486h2v10h-2zM846 486h2v10h-2zM500 496h106v8h-106z"/>
<path fill="#e63800" d="M726 486h2v10h-2zM606 496h10v8h-10z"/>
<path fill="#e83800" d="M722 486h2v10h-2zM616 496h6v8h-6z"/>
<path fill="#ea3800" d="M844 486h2v10h-2zM622 496h4v8h-4zM732 496h108v8h-108zM850 496h34v8h-34z"/>
<path fill="#ec3800" d="M626 496h6v8h-6zM730 496h2v8h-2z"/>
<path fill="#ee3800" d="M632 496h6v8h-6zM728 496h2v8h-2z"/>
<path fill="#f03800" d="M724 486h2v10h-2zM638 496h6v8h-6zM718 496h2v8h-2zM840 496h2v8h-2zM848 496h2v8h-2z"/>
<path fill="#f23800" d="M644 496h8v8h-8zM712 496h6v8h-6zM720 496h2v8h-2z"/>
<path fill="#f43800" d="M652 496h60v8h-60z"/>
<path fill="#f83800" d="M722 496h6v8h-6zM842 496h6v8h-6z"/>
</g>
<rect x="328" y="116" width="6" height="22" fill="#00ff8a"/>
<rect x="328" y="204" width="6" height="21" fill="#00ff80"/>
<rect x="328" y="283" width="6" height="23" fill="#00ff23"/>
<rect x="328" y="226" width="6" height="8" fill="#0040ff"/>
<rect x="328" y="234" width="6" height="8" fill="#0018ff"/>
<rect x="328" y="242" width="6" height="8" fill="#0067ff"/>
<rect x="328" y="250" width="6" height="8" fill="#002cff"/>
<rect x="328" y="258" width="6" height="8" fill="#008fff"/>
<rect x="328" y="266" width="6" height="8" fill="#0053ff"/>
<rect x="328" y="274" width="6" height="9" fill="#00a2ff"/>
<path fill="none" stroke="#ff00ff" stroke-width="1.7" d="M329 194C331.7 194.3 339.0 195.2 345 196C351.0 196.8 358.0 197.7 365 198.5C372.0 199.3 379.5 200.3 387 200.8C394.5 201.3 399.5 201.4 410 201.6C420.5 201.8 437.5 201.8 450 201.8C462.5 201.8 475.0 201.8 485 201.5C495.0 201.2 501.7 200.6 510 200C518.3 199.4 523.3 198.8 535 197.8C546.7 196.8 563.5 195.9 580 194C596.5 192.1 616.3 189.2 634 186.3C651.7 183.4 670.5 179.9 686 176.6C701.5 173.3 715.0 169.9 727 166.5C739.0 163.1 749.8 159.0 758 156C766.2 153.0 766.2 152.8 776 148.5C785.8 144.2 805.5 136.1 817 130C828.5 123.9 835.0 118.9 845 112C855.0 105.1 868.2 95.2 877 88.6C885.8 82.0 890.2 78.3 897.5 72.3C904.8 66.3 917.1 55.7 921 52.4"/>
<rect x="341" y="55" width="2" height="3" fill="#000"/>
<rect x="350" y="95" width="2" height="3" fill="#000"/>
<rect x="344" y="98" width="2" height="3" fill="#000"/>
<rect x="341" y="143" width="2" height="3" fill="#000"/>
<rect x="711" y="58" width="2" height="3" fill="#000"/>
<rect x="726" y="83" width="2" height="3" fill="#000"/>
<rect x="717" y="109" width="2" height="3" fill="#000"/>
<rect x="712" y="146" width="2" height="3" fill="#000"/>
<rect x="751" y="77" width="2" height="3" fill="#000"/>
<rect x="790" y="77" width="2" height="3" fill="#000"/>
<rect x="813" y="126" width="2" height="3" fill="#000"/>
<rect x="751" y="165" width="2" height="3" fill="#000"/>
<rect x="790" y="165" width="2" height="3" fill="#000"/>
<rect x="813" y="213" width="2" height="3" fill="#000"/>
<rect x="751" y="250" width="2" height="3" fill="#000"/>
<rect x="790" y="250" width="2" height="3" fill="#000"/>
<rect x="813" y="291" width="2" height="3" fill="#000"/>
<rect x="711" y="232" width="2" height="3" fill="#000"/>
<rect x="723" y="253" width="2" height="3" fill="#000"/>
<rect x="828" y="243" width="2" height="3" fill="#000"/>
<rect x="821" y="255" width="2" height="3" fill="#000"/>
<rect x="341" y="226" width="2" height="3" fill="#000"/>
<rect x="357" y="262" width="2" height="3" fill="#000"/>
<rect x="341" y="317" width="2" height="3" fill="#000"/>
<rect x="357" y="360" width="2" height="3" fill="#000"/>
<rect x="711" y="323" width="2" height="3" fill="#000"/>
<rect x="726" y="349" width="2" height="3" fill="#000"/>
<rect x="717" y="351" width="2" height="3" fill="#000"/>
<rect x="751" y="343" width="2" height="3" fill="#000"/>
<rect x="790" y="343" width="2" height="3" fill="#000"/>
<rect x="813" y="393" width="2" height="3" fill="#000"/>
<rect x="685" y="350" width="2" height="3" fill="#000"/>
<rect x="966" y="53" width="14" height="352" fill="url(#cb)"/>
<rect x="966" y="429" width="14" height="76" fill="url(#cb)"/>
<g stroke="#000" stroke-width="1" shape-rendering="crispEdges" fill="none">
<path d="M90 51.5H954"/>
<path d="M81 405.5H954"/>
<path d="M90.5 51V406"/>
<path d="M953.5 51V406"/>
<path d="M86 375.5H90"/>
<path d="M86 358.5H90"/>
<path d="M86 346.5H90"/>
<path d="M86 337.5H90"/>
<path d="M86 329.5H90"/>
<path d="M86 322.5H90"/>
<path d="M86 316.5H90"/>
<path d="M86 311.5H90"/>
<path d="M81 307.5H90"/>
<path d="M86 277.5H90"/>
<path d="M86 260.5H90"/>
<path d="M86 248.5H90"/>
<path d="M86 239.5H90"/>
<path d="M86 231.5H90"/>
<path d="M86 224.5H90"/>
<path d="M86 218.5H90"/>
<path d="M86 213.5H90"/>
<path d="M81 209.5H90"/>
<path d="M86 179.5H90"/>
<path d="M86 162.5H90"/>
<path d="M86 150.5H90"/>
<path d="M86 141.5H90"/>
<path d="M86 133.5H90"/>
<path d="M86 126.5H90"/>
<path d="M86 120.5H90"/>
<path d="M86 115.5H90"/>
<path d="M81 111.5H90"/>
<path d="M86 81.5H90"/>
<path d="M86 64.5H90"/>
<path d="M86 52.5H90"/>
<path d="M81 428.5H954"/>
<path d="M90 504.5H954"/>
<path d="M90.5 428V505"/>
<path d="M953.5 428V505"/>
<path d="M81 470.5H90"/>
<path d="M86 430.5H90"/>
<path d="M86 432.5H90"/>
<path d="M86 434.5H90"/>
<path d="M86 437.5H90"/>
<path d="M86 441.5H90"/>
<path d="M86 445.5H90"/>
<path d="M86 450.5H90"/>
<path d="M86 457.5H90"/>
<path d="M86 473.5H90"/>
<path d="M86 475.5H90"/>
<path d="M86 477.5H90"/>
<path d="M86 480.5H90"/>
<path d="M86 483.5H90"/>
<path d="M86 487.5H90"/>
<path d="M86 491.5H90"/>
<path d="M86 498.5H90"/>
<path d="M93.5 504V508"/>
<path d="M124.5 504V513"/>
<path d="M155.5 504V508"/>
<path d="M187.5 504V508"/>
<path d="M218.5 504V508"/>
<path d="M250.5 504V513"/>
<path d="M281.5 504V508"/>
<path d="M313.5 504V508"/>
<path d="M344.5 504V508"/>
<path d="M376.5 504V513"/>
<path d="M407.5 504V508"/>
<path d="M439.5 504V508"/>
<path d="M470.5 504V508"/>
<path d="M502.5 504V513"/>
<path d="M533.5 504V508"/>
<path d="M565.5 504V508"/>
<path d="M596.5 504V508"/>
<path d="M628.5 504V513"/>
<path d="M659.5 504V508"/>
<path d="M691.5 504V508"/>
<path d="M722.5 504V508"/>
<path d="M754.5 504V513"/>
<path d="M785.5 504V508"/>
<path d="M817.5 504V508"/>
<path d="M848.5 504V508"/>
<path d="M880.5 504V513"/>
<path d="M911.5 504V508"/>
<path d="M943.5 504V508"/>
<path d="M979.5 52V406"/>
<path d="M979 52.5H989"/>
<path d="M979 87.5H984"/>
<path d="M979 122.5H989"/>
<path d="M979 157.5H984"/>
<path d="M979 193.5H989"/>
<path d="M979 228.5H984"/>
<path d="M979 263.5H989"/>
<path d="M979 299.5H984"/>
<path d="M979 334.5H989"/>
<path d="M979 369.5H984"/>
<path d="M979 405.5H989"/>
<path d="M979.5 428V505"/>
<path d="M979 428.5H984"/>
<path d="M979 435.5H984"/>
<path d="M979 443.5H984"/>
<path d="M979 450.5H984"/>
<path d="M979 458.5H989"/>
<path d="M979 466.5H984"/>
<path d="M979 473.5H984"/>
<path d="M979 481.5H984"/>
<path d="M979 489.5H984"/>
<path d="M979 496.5H989"/>
<path d="M979 504.5H984"/>
</g>
<text x="279" y="31" font-size="14" textLength="485" lengthAdjust="spacingAndGlyphs">DE 1/PWI-SFC&#160; Spin Plane E-Field Spectra, 200 meter antenna, 104 Hz to 409 kHz</text>
<text x="459" y="44" font-size="9.6" textLength="125" lengthAdjust="spacing" stroke="#000" stroke-width="0.25">(Magenta Line: Fce in Hz)</text>
<text x="282" y="419" font-size="14" textLength="480" lengthAdjust="spacingAndGlyphs">DE 1/PWI-LFC&#160; Spin Plane E-Field Spectra, 200 meter antenna, 1.78 Hz to 100 Hz</text>
<text x="379.5" y="612" font-size="14" textLength="285" lengthAdjust="spacingAndGlyphs">1982-01-27 (027) 21:44 to 1982-01-28 (028) 04:35</text>
<text x="56" y="412.5" font-size="14" textLength="14" lengthAdjust="spacingAndGlyphs">10</text>
<text x="70" y="406.5" font-size="14" textLength="7" lengthAdjust="spacingAndGlyphs">2</text>
<text x="56" y="314.5" font-size="14" textLength="14" lengthAdjust="spacingAndGlyphs">10</text>
<text x="70" y="308.5" font-size="14" textLength="7" lengthAdjust="spacingAndGlyphs">3</text>
<text x="56" y="216.5" font-size="14" textLength="14" lengthAdjust="spacingAndGlyphs">10</text>
<text x="70" y="210.5" font-size="14" textLength="7" lengthAdjust="spacingAndGlyphs">4</text>
<text x="56" y="118.5" font-size="14" textLength="14" lengthAdjust="spacingAndGlyphs">10</text>
<text x="70" y="112.5" font-size="14" textLength="7" lengthAdjust="spacingAndGlyphs">5</text>
<text x="56" y="435.5" font-size="14" textLength="14" lengthAdjust="spacingAndGlyphs">10</text>
<text x="70" y="429.5" font-size="14" textLength="7" lengthAdjust="spacingAndGlyphs">2</text>
<text x="56" y="477.5" font-size="14" textLength="14" lengthAdjust="spacingAndGlyphs">10</text>
<text x="70" y="471.5" font-size="14" textLength="7" lengthAdjust="spacingAndGlyphs">1</text>
<text transform="translate(46.5,228.5) rotate(-90)" x="-44" y="0" font-size="14" textLength="88" lengthAdjust="spacingAndGlyphs">Frequency (Hz)</text>
<text transform="translate(46.5,466) rotate(-90)" x="-26.5" y="0" font-size="14" textLength="53" lengthAdjust="spacingAndGlyphs">Freq (Hz)</text>
<text x="992" y="59.5" font-size="14" textLength="14" lengthAdjust="spacingAndGlyphs">10</text>
<text x="1006" y="53.5" font-size="14" textLength="11" lengthAdjust="spacingAndGlyphs">-6</text>
<text x="992" y="129.5" font-size="14" textLength="14" lengthAdjust="spacingAndGlyphs">10</text>
<text x="1006" y="123.5" font-size="14" textLength="11" lengthAdjust="spacingAndGlyphs">-8</text>
<text x="992" y="200.5" font-size="14" textLength="14" lengthAdjust="spacingAndGlyphs">10</text>
<text x="1006" y="194.5" font-size="14" textLength="18" lengthAdjust="spacingAndGlyphs">-10</text>
<text x="992" y="270.5" font-size="14" textLength="14" lengthAdjust="spacingAndGlyphs">10</text>
<text x="1006" y="264.5" font-size="14" textLength="18" lengthAdjust="spacingAndGlyphs">-12</text>
<text x="992" y="341.5" font-size="14" textLength="14" lengthAdjust="spacingAndGlyphs">10</text>
<text x="1006" y="335.5" font-size="14" textLength="18" lengthAdjust="spacingAndGlyphs">-14</text>
<text x="992" y="412.5" font-size="14" textLength="14" lengthAdjust="spacingAndGlyphs">10</text>
<text x="1006" y="406.5" font-size="14" textLength="18" lengthAdjust="spacingAndGlyphs">-16</text>
<text x="992" y="466" font-size="14" textLength="14" lengthAdjust="spacingAndGlyphs">10</text>
<text x="1006" y="460" font-size="14" textLength="18" lengthAdjust="spacingAndGlyphs">-10</text>
<text x="992" y="504" font-size="14" textLength="14" lengthAdjust="spacingAndGlyphs">10</text>
<text x="1006" y="498" font-size="14" textLength="18" lengthAdjust="spacingAndGlyphs">-15</text>
<text transform="translate(1048.5,228.5) rotate(-90)" x="-49.5" y="0" font-size="14" textLength="32" lengthAdjust="spacingAndGlyphs">Ex (V</text>
<text transform="translate(1048.5,228.5) rotate(-90)" x="-17.5" y="-6" font-size="14" textLength="7" lengthAdjust="spacingAndGlyphs">2</text>
<text transform="translate(1048.5,228.5) rotate(-90)" x="-10.5" y="0" font-size="14" textLength="15" lengthAdjust="spacingAndGlyphs">&#160;m</text>
<text transform="translate(1048.5,228.5) rotate(-90)" x="4.5" y="-6" font-size="14" textLength="11" lengthAdjust="spacingAndGlyphs">-2</text>
<text transform="translate(1048.5,228.5) rotate(-90)" x="15.5" y="0" font-size="14" textLength="19" lengthAdjust="spacingAndGlyphs">&#160;Hz</text>
<text transform="translate(1048.5,228.5) rotate(-90)" x="34.5" y="-6" font-size="14" textLength="11" lengthAdjust="spacingAndGlyphs">-1</text>
<text transform="translate(1048.5,228.5) rotate(-90)" x="45.5" y="0" font-size="14" textLength="4" lengthAdjust="spacingAndGlyphs">)</text>
<text transform="translate(1041.5,466) rotate(-90)" x="-21.5" y="0" font-size="14" textLength="43" lengthAdjust="spacingAndGlyphs">LFC Ex</text>
<text x="107" y="530.5" font-size="14" textLength="32" lengthAdjust="spacingAndGlyphs">22:00</text>
<text x="233" y="530.5" font-size="14" textLength="32" lengthAdjust="spacingAndGlyphs">23:00</text>
<text x="359" y="530.5" font-size="14" textLength="32" lengthAdjust="spacingAndGlyphs">00:00</text>
<text x="359" y="545.5" font-size="14" textLength="32" lengthAdjust="spacingAndGlyphs">4.270</text>
<text x="359" y="561.5" font-size="14" textLength="32" lengthAdjust="spacingAndGlyphs">4.846</text>
<text x="359" y="577.5" font-size="14" textLength="32" lengthAdjust="spacingAndGlyphs">2.099</text>
<text x="352" y="593.5" font-size="14" textLength="39" lengthAdjust="spacingAndGlyphs">20.788</text>
<text x="485" y="530.5" font-size="14" textLength="32" lengthAdjust="spacingAndGlyphs">01:00</text>
<text x="485" y="545.5" font-size="14" textLength="32" lengthAdjust="spacingAndGlyphs">4.653</text>
<text x="485" y="561.5" font-size="14" textLength="32" lengthAdjust="spacingAndGlyphs">7.682</text>
<text x="485" y="577.5" font-size="14" textLength="32" lengthAdjust="spacingAndGlyphs">2.457</text>
<text x="478" y="593.5" font-size="14" textLength="39" lengthAdjust="spacingAndGlyphs">39.888</text>
<text x="611" y="530.5" font-size="14" textLength="32" lengthAdjust="spacingAndGlyphs">02:00</text>
<text x="611" y="545.5" font-size="14" textLength="32" lengthAdjust="spacingAndGlyphs">4.456</text>
<text x="604" y="561.5" font-size="14" textLength="39" lengthAdjust="spacingAndGlyphs">14.976</text>
<text x="611" y="577.5" font-size="14" textLength="32" lengthAdjust="spacingAndGlyphs">3.041</text>
<text x="604" y="593.5" font-size="14" textLength="39" lengthAdjust="spacingAndGlyphs">58.027</text>
<text x="737" y="530.5" font-size="14" textLength="32" lengthAdjust="spacingAndGlyphs">03:00</text>
<text x="737" y="545.5" font-size="14" textLength="32" lengthAdjust="spacingAndGlyphs">3.639</text>
<text x="730" y="561.5" font-size="14" textLength="39" lengthAdjust="spacingAndGlyphs">76.901</text>
<text x="737" y="577.5" font-size="14" textLength="32" lengthAdjust="spacingAndGlyphs">5.506</text>
<text x="730" y="593.5" font-size="14" textLength="39" lengthAdjust="spacingAndGlyphs">77.890</text>
<text x="863" y="530.5" font-size="14" textLength="32" lengthAdjust="spacingAndGlyphs">04:00</text>
<text x="863" y="545.5" font-size="14" textLength="32" lengthAdjust="spacingAndGlyphs">2.035</text>
<text x="863" y="561.5" font-size="14" textLength="32" lengthAdjust="spacingAndGlyphs">5.355</text>
<text x="856" y="577.5" font-size="14" textLength="39" lengthAdjust="spacingAndGlyphs">13.290</text>
<text x="856" y="593.5" font-size="14" textLength="39" lengthAdjust="spacingAndGlyphs">51.273</text>
<text x="55.5" y="549" font-size="8" textLength="4" lengthAdjust="spacingAndGlyphs">e</text>
<text x="46.5" y="545.5" font-size="14" textLength="9" lengthAdjust="spacingAndGlyphs">R</text>
<text x="52.5" y="561.5" font-size="14" textLength="7" lengthAdjust="spacingAndGlyphs">L</text>
<text x="50.5" y="581" font-size="8" textLength="9" lengthAdjust="spacingAndGlyphs">LT</text>
<text x="39.5" y="577.5" font-size="14" textLength="11" lengthAdjust="spacingAndGlyphs">M</text>
<text x="45.5" y="597" font-size="8" textLength="14" lengthAdjust="spacingAndGlyphs">LAT</text>
<text x="34.5" y="593.5" font-size="14" textLength="11" lengthAdjust="spacingAndGlyphs">M</text>
</svg></body></html>
